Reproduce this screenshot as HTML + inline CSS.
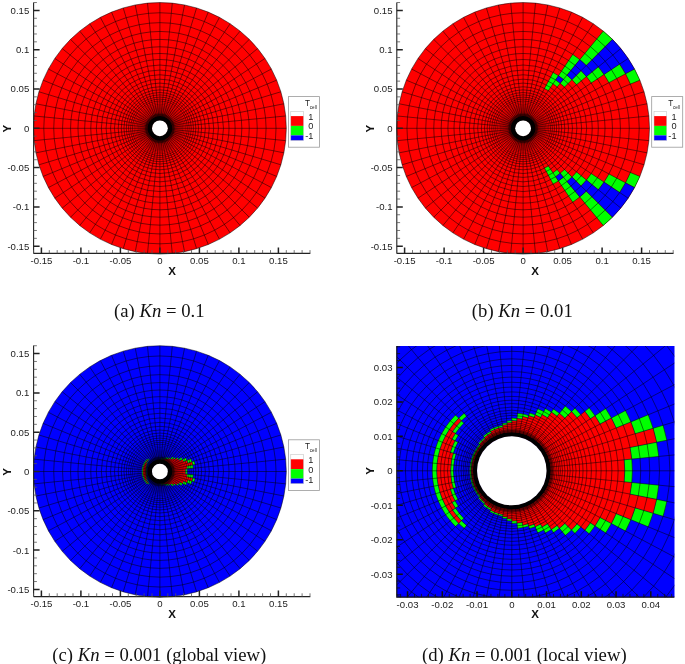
<!DOCTYPE html>
<html><head><meta charset="utf-8"><style>html,body{margin:0;padding:0;background:#fff;}svg{display:block;filter:blur(0.25px);}</style></head><body>
<svg width="685" height="664" viewBox="0 0 685 664">
<rect width="685" height="664" fill="#fff"/>
<ellipse cx="159.9" cy="128.3" rx="126.4" ry="125.76" fill="#ff0000"/>
<path fill="none" stroke="#000" stroke-width="0.5" d="M167.8 128.3L286.3 128.3M167.76 127.53L285.69 115.97M167.65 126.77L283.87 103.77M167.46 126.02L280.86 91.79M167.2 125.29L276.68 80.17M166.87 124.59L271.37 69.02M166.47 123.93L265 58.43M166.01 123.31L257.61 48.52M165.49 122.74L249.28 39.37M164.91 122.22L240.09 31.09M164.29 121.76L230.12 23.73M163.62 121.37L219.48 17.39M162.92 121.04L208.27 12.11M162.19 120.78L196.59 7.96M161.44 120.59L184.56 4.96M160.67 120.48L172.29 3.15M159.9 120.44L159.9 2.54M159.13 120.48L147.51 3.15M158.36 120.59L135.24 4.96M157.61 120.78L123.21 7.96M156.88 121.04L111.53 12.11M156.18 121.37L100.32 17.39M155.51 121.76L89.68 23.73M154.89 122.22L79.71 31.09M154.31 122.74L70.52 39.37M153.79 123.31L62.19 48.52M153.33 123.93L54.8 58.43M152.93 124.59L48.43 69.02M152.6 125.29L43.12 80.17M152.34 126.02L38.94 91.79M152.15 126.77L35.93 103.77M152.04 127.53L34.11 115.97M152 128.3L33.5 128.3M152.04 129.07L34.11 140.63M152.15 129.83L35.93 152.83M152.34 130.58L38.94 164.81M152.6 131.31L43.12 176.43M152.93 132.01L48.43 187.58M153.33 132.67L54.8 198.17M153.79 133.29L62.19 208.08M154.31 133.86L70.52 217.23M154.89 134.38L79.71 225.51M155.51 134.84L89.68 232.87M156.18 135.23L100.32 239.21M156.88 135.56L111.53 244.49M157.61 135.82L123.21 248.64M158.36 136.01L135.24 251.64M159.13 136.12L147.51 253.45M159.9 136.16L159.9 254.06M160.67 136.12L172.29 253.45M161.44 136.01L184.56 251.64M162.19 135.82L196.59 248.64M162.92 135.56L208.27 244.49M163.62 135.23L219.48 239.21M164.29 134.84L230.12 232.87M164.91 134.38L240.09 225.51M165.49 133.86L249.28 217.23M166.01 133.29L257.61 208.08M166.47 132.67L265 198.17M166.87 132.01L271.37 187.58M167.2 131.31L276.68 176.43M167.46 130.58L280.86 164.81M167.65 129.83L283.87 152.83M167.76 129.07L285.69 140.63"/>
<g fill="none" stroke="#000" stroke-width="0.5"><ellipse cx="159.9" cy="128.3" rx="27.41" ry="27.27"/><ellipse cx="159.9" cy="128.3" rx="29.31" ry="29.16"/><ellipse cx="159.9" cy="128.3" rx="31.36" ry="31.2"/><ellipse cx="159.9" cy="128.3" rx="33.58" ry="33.41"/><ellipse cx="159.9" cy="128.3" rx="35.95" ry="35.76"/><ellipse cx="159.9" cy="128.3" rx="38.63" ry="38.44"/><ellipse cx="159.9" cy="128.3" rx="41.71" ry="41.5"/><ellipse cx="159.9" cy="128.3" rx="45.43" ry="45.2"/><ellipse cx="159.9" cy="128.3" rx="49.38" ry="49.12"/><ellipse cx="159.9" cy="128.3" rx="53.8" ry="53.53"/><ellipse cx="159.9" cy="128.3" rx="58.54" ry="58.24"/><ellipse cx="159.9" cy="128.3" rx="63.59" ry="63.27"/><ellipse cx="159.9" cy="128.3" rx="69.12" ry="68.77"/><ellipse cx="159.9" cy="128.3" rx="75.21" ry="74.83"/><ellipse cx="159.9" cy="128.3" rx="81.92" ry="81.51"/><ellipse cx="159.9" cy="128.3" rx="89.35" ry="88.9"/><ellipse cx="159.9" cy="128.3" rx="97.33" ry="96.84"/><ellipse cx="159.9" cy="128.3" rx="106.18" ry="105.64"/><ellipse cx="159.9" cy="128.3" rx="116.13" ry="115.54"/><ellipse cx="159.9" cy="128.3" rx="126.4" ry="125.76"/></g>
<g fill="none" stroke="#000" stroke-width="0.32"><ellipse cx="159.9" cy="128.3" rx="7.9" ry="7.86"/><ellipse cx="159.9" cy="128.3" rx="7.96" ry="7.92"/><ellipse cx="159.9" cy="128.3" rx="8.04" ry="8"/><ellipse cx="159.9" cy="128.3" rx="8.14" ry="8.1"/><ellipse cx="159.9" cy="128.3" rx="8.26" ry="8.21"/><ellipse cx="159.9" cy="128.3" rx="8.4" ry="8.36"/><ellipse cx="159.9" cy="128.3" rx="8.57" ry="8.53"/><ellipse cx="159.9" cy="128.3" rx="8.77" ry="8.72"/><ellipse cx="159.9" cy="128.3" rx="9.01" ry="8.96"/><ellipse cx="159.9" cy="128.3" rx="9.24" ry="9.2"/><ellipse cx="159.9" cy="128.3" rx="9.56" ry="9.51"/><ellipse cx="159.9" cy="128.3" rx="9.88" ry="9.83"/><ellipse cx="159.9" cy="128.3" rx="10.27" ry="10.22"/><ellipse cx="159.9" cy="128.3" rx="10.66" ry="10.61"/><ellipse cx="159.9" cy="128.3" rx="11.06" ry="11"/><ellipse cx="159.9" cy="128.3" rx="11.53" ry="11.48"/><ellipse cx="159.9" cy="128.3" rx="12.09" ry="12.03"/><ellipse cx="159.9" cy="128.3" rx="12.72" ry="12.65"/><ellipse cx="159.9" cy="128.3" rx="13.27" ry="13.2"/><ellipse cx="159.9" cy="128.3" rx="13.9" ry="13.83"/><ellipse cx="159.9" cy="128.3" rx="14.61" ry="14.54"/><ellipse cx="159.9" cy="128.3" rx="15.4" ry="15.33"/><ellipse cx="159.9" cy="128.3" rx="16.2" ry="16.11"/><ellipse cx="159.9" cy="128.3" rx="17.06" ry="16.98"/><ellipse cx="159.9" cy="128.3" rx="18.09" ry="18"/><ellipse cx="159.9" cy="128.3" rx="19.2" ry="19.1"/><ellipse cx="159.9" cy="128.3" rx="20.3" ry="20.2"/><ellipse cx="159.9" cy="128.3" rx="21.49" ry="21.38"/><ellipse cx="159.9" cy="128.3" rx="22.75" ry="22.64"/><ellipse cx="159.9" cy="128.3" rx="24.17" ry="24.05"/><ellipse cx="159.9" cy="128.3" rx="25.68" ry="25.55"/></g>
<ellipse cx="159.9" cy="128.3" rx="10.15" ry="10.1" fill="none" stroke="#000" stroke-width="4.49"/>
<ellipse cx="159.9" cy="128.3" rx="13.59" ry="13.52" fill="none" stroke="#000" stroke-opacity="0.45" stroke-width="2.36"/>
<ellipse cx="159.9" cy="128.3" rx="7.9" ry="7.86" fill="#fff"/>
<path fill="none" stroke="#222" stroke-width="1.1" d="M33.6 2.4L33.6 253.4M33.6 253.4L310.3 253.4"/>
<path fill="none" stroke="#222" stroke-width="1.5" d="M33.6 246.2h6M33.6 206.9h6M33.6 167.6h6M33.6 128.3h6M33.6 89h6M33.6 49.7h6M33.6 10.4h6M41.4 253.4v-6M80.9 253.4v-6M120.4 253.4v-6M159.9 253.4v-6M199.4 253.4v-6M238.9 253.4v-6M278.4 253.4v-6"/>
<path fill="none" stroke="#555" stroke-width="0.8" d="M33.6 238.34h3.3M33.6 230.48h3.3M33.6 222.62h3.3M33.6 214.76h3.3M33.6 199.04h3.3M33.6 191.18h3.3M33.6 183.32h3.3M33.6 175.46h3.3M33.6 159.74h3.3M33.6 151.88h3.3M33.6 144.02h3.3M33.6 136.16h3.3M33.6 120.44h3.3M33.6 112.58h3.3M33.6 104.72h3.3M33.6 96.86h3.3M33.6 81.14h3.3M33.6 73.28h3.3M33.6 65.42h3.3M33.6 57.56h3.3M33.6 41.84h3.3M33.6 33.98h3.3M33.6 26.12h3.3M33.6 18.26h3.3M33.6 2.54h3.3M33.5 253.4v-3.3M49.3 253.4v-3.3M57.2 253.4v-3.3M65.1 253.4v-3.3M73 253.4v-3.3M88.8 253.4v-3.3M96.7 253.4v-3.3M104.6 253.4v-3.3M112.5 253.4v-3.3M128.3 253.4v-3.3M136.2 253.4v-3.3M144.1 253.4v-3.3M152 253.4v-3.3M167.8 253.4v-3.3M175.7 253.4v-3.3M183.6 253.4v-3.3M191.5 253.4v-3.3M207.3 253.4v-3.3M215.2 253.4v-3.3M223.1 253.4v-3.3M231 253.4v-3.3M246.8 253.4v-3.3M254.7 253.4v-3.3M262.6 253.4v-3.3M270.5 253.4v-3.3M286.3 253.4v-3.3M294.2 253.4v-3.3M302.1 253.4v-3.3M310 253.4v-3.3"/>
<text x="29.3" y="13.8" font-family="Liberation Sans" font-size="9.6" font-weight="normal" font-style="normal" text-anchor="end" fill="#222">0.15</text>
<text x="29.3" y="53.1" font-family="Liberation Sans" font-size="9.6" font-weight="normal" font-style="normal" text-anchor="end" fill="#222">0.1</text>
<text x="29.3" y="92.4" font-family="Liberation Sans" font-size="9.6" font-weight="normal" font-style="normal" text-anchor="end" fill="#222">0.05</text>
<text x="29.3" y="131.7" font-family="Liberation Sans" font-size="9.6" font-weight="normal" font-style="normal" text-anchor="end" fill="#222">0</text>
<text x="29.3" y="171" font-family="Liberation Sans" font-size="9.6" font-weight="normal" font-style="normal" text-anchor="end" fill="#222">-0.05</text>
<text x="29.3" y="210.3" font-family="Liberation Sans" font-size="9.6" font-weight="normal" font-style="normal" text-anchor="end" fill="#222">-0.1</text>
<text x="29.3" y="249.6" font-family="Liberation Sans" font-size="9.6" font-weight="normal" font-style="normal" text-anchor="end" fill="#222">-0.15</text>
<text x="278.4" y="264.1" font-family="Liberation Sans" font-size="9.6" font-weight="normal" font-style="normal" text-anchor="middle" fill="#222">0.15</text>
<text x="238.9" y="264.1" font-family="Liberation Sans" font-size="9.6" font-weight="normal" font-style="normal" text-anchor="middle" fill="#222">0.1</text>
<text x="199.4" y="264.1" font-family="Liberation Sans" font-size="9.6" font-weight="normal" font-style="normal" text-anchor="middle" fill="#222">0.05</text>
<text x="159.9" y="264.1" font-family="Liberation Sans" font-size="9.6" font-weight="normal" font-style="normal" text-anchor="middle" fill="#222">0</text>
<text x="120.4" y="264.1" font-family="Liberation Sans" font-size="9.6" font-weight="normal" font-style="normal" text-anchor="middle" fill="#222">-0.05</text>
<text x="80.9" y="264.1" font-family="Liberation Sans" font-size="9.6" font-weight="normal" font-style="normal" text-anchor="middle" fill="#222">-0.1</text>
<text x="41.4" y="264.1" font-family="Liberation Sans" font-size="9.6" font-weight="normal" font-style="normal" text-anchor="middle" fill="#222">-0.15</text>
<text x="172" y="275" font-family="Liberation Sans" font-size="11.5" font-weight="bold" font-style="normal" text-anchor="middle" fill="#111">X</text>
<text x="0" y="0" font-family="Liberation Sans" font-size="11.5" font-weight="bold" font-style="normal" text-anchor="middle" fill="#111" transform="translate(11 128.6) rotate(-90)">Y</text>
<rect x="288.5" y="96.6" width="31" height="50.6" fill="#fff" stroke="#999" stroke-width="0.8"/>
<rect x="290.8" y="111.4" width="12.7" height="5" fill="#fff"/>
<rect x="290.8" y="116.1" width="12.7" height="9.8" fill="#ff0000"/>
<rect x="290.8" y="125.9" width="12.7" height="9.5" fill="#00ff00"/>
<rect x="290.8" y="135.4" width="12.7" height="5" fill="#0000ff"/>
<rect x="290.8" y="111.4" width="12.7" height="29" fill="none" stroke="#bbb" stroke-width="0.5"/>
<text x="313.3" y="119.5" font-family="Liberation Sans" font-size="9.2" font-weight="normal" font-style="normal" text-anchor="end" fill="#222">1</text>
<text x="313.3" y="129.4" font-family="Liberation Sans" font-size="9.2" font-weight="normal" font-style="normal" text-anchor="end" fill="#222">0</text>
<text x="313.3" y="139.4" font-family="Liberation Sans" font-size="9.2" font-weight="normal" font-style="normal" text-anchor="end" fill="#222">-1</text>
<text x="305.1" y="105.9" font-family="Liberation Sans" font-size="8.2" font-weight="normal" font-style="normal" text-anchor="start" fill="#222">T</text>
<text x="309.8" y="108.8" font-family="Liberation Sans" font-size="4.6" font-weight="normal" font-style="normal" text-anchor="start" fill="#222">cell</text>
<ellipse cx="523.1" cy="128.3" rx="126.4" ry="125.76" fill="#ff0000"/>
<path fill="#00ff00" d="M630.39 84.08L639.88 80.17A126.4 125.76 0 0 0 634.57 69.02L625.52 73.83A116.13 115.54 0 0 1 630.39 84.08ZM608.94 82.65L625.52 73.83A116.13 115.54 0 0 0 619.66 64.11L604.03 74.5A97.33 96.84 0 0 1 608.94 82.65ZM591.22 83.02L604.03 74.5A97.33 96.84 0 0 0 598.34 66.87L586.43 76.59A81.92 81.51 0 0 1 591.22 83.02ZM576.53 84.67L586.43 76.59A81.92 81.51 0 0 0 581.03 70.66L571.98 79.67A69.12 68.77 0 0 1 576.53 84.67ZM564.49 87.12L571.98 79.67A69.12 68.77 0 0 0 566.95 75.14L560.24 83.28A58.54 58.24 0 0 1 564.49 87.12ZM586.28 65.44L612.48 39.37A126.4 125.76 0 0 0 603.29 31.09L579.78 59.58A89.35 88.9 0 0 1 586.28 65.44ZM557.23 86.92L560.24 83.28A58.54 58.24 0 0 0 555.62 79.87L552.99 83.79A53.8 53.53 0 0 1 557.23 86.92ZM563.44 79.39L579.78 59.58A89.35 88.9 0 0 0 572.74 54.39L558.43 75.69A63.59 63.27 0 0 1 563.44 79.39ZM548.34 90.72L558.43 75.69A63.59 63.27 0 0 0 553.08 72.5L544.51 88.44A45.43 45.2 0 0 1 548.34 90.72ZM544.51 168.16L553.08 184.1A63.59 63.27 0 0 0 558.43 180.91L548.34 165.88A45.43 45.2 0 0 1 544.51 168.16ZM552.99 172.81L555.62 176.73A58.54 58.24 0 0 0 560.24 173.32L557.23 169.68A53.8 53.53 0 0 1 552.99 172.81ZM558.43 180.91L572.74 202.21A89.35 88.9 0 0 0 579.78 197.02L563.44 177.21A63.59 63.27 0 0 1 558.43 180.91ZM560.24 173.32L566.95 181.46A69.12 68.77 0 0 0 571.98 176.93L564.49 169.48A58.54 58.24 0 0 1 560.24 173.32ZM579.78 197.02L603.29 225.51A126.4 125.76 0 0 0 612.48 217.23L586.28 191.16A89.35 88.9 0 0 1 579.78 197.02ZM571.98 176.93L581.03 185.94A81.92 81.51 0 0 0 586.43 180.01L576.53 171.93A69.12 68.77 0 0 1 571.98 176.93ZM586.43 180.01L598.34 189.73A97.33 96.84 0 0 0 604.03 182.1L591.22 173.58A81.92 81.51 0 0 1 586.43 180.01ZM604.03 182.1L619.66 192.49A116.13 115.54 0 0 0 625.52 182.77L608.94 173.95A97.33 96.84 0 0 1 604.03 182.1ZM625.52 182.77L634.57 187.58A126.4 125.76 0 0 0 639.88 176.43L630.39 172.52A116.13 115.54 0 0 1 625.52 182.77Z"/>
<path fill="#0000ff" d="M625.52 73.83L634.57 69.02A126.4 125.76 0 0 0 628.2 58.43L619.66 64.11A116.13 115.54 0 0 1 625.52 73.83ZM604.03 74.5L628.2 58.43A126.4 125.76 0 0 0 620.81 48.52L598.34 66.87A97.33 96.84 0 0 1 604.03 74.5ZM586.43 76.59L620.81 48.52A126.4 125.76 0 0 0 612.48 39.37L581.03 70.66A81.92 81.51 0 0 1 586.43 76.59ZM571.98 79.67L586.28 65.44A89.35 88.9 0 0 0 579.78 59.58L566.95 75.14A69.12 68.77 0 0 1 571.98 79.67ZM560.24 83.28L563.44 79.39A63.59 63.27 0 0 0 558.43 75.69L555.62 79.87A58.54 58.24 0 0 1 560.24 83.28ZM555.62 176.73L558.43 180.91A63.59 63.27 0 0 0 563.44 177.21L560.24 173.32A58.54 58.24 0 0 1 555.62 176.73ZM566.95 181.46L579.78 197.02A89.35 88.9 0 0 0 586.28 191.16L571.98 176.93A69.12 68.77 0 0 1 566.95 181.46ZM581.03 185.94L612.48 217.23A126.4 125.76 0 0 0 620.81 208.08L586.43 180.01A81.92 81.51 0 0 1 581.03 185.94ZM598.34 189.73L620.81 208.08A126.4 125.76 0 0 0 628.2 198.17L604.03 182.1A97.33 96.84 0 0 1 598.34 189.73ZM619.66 192.49L628.2 198.17A126.4 125.76 0 0 0 634.57 187.58L625.52 182.77A116.13 115.54 0 0 1 619.66 192.49Z"/>
<path fill="none" stroke="#000" stroke-width="0.5" d="M531 128.3L649.5 128.3M530.96 127.53L648.89 115.97M530.85 126.77L647.07 103.77M530.66 126.02L644.06 91.79M530.4 125.29L639.88 80.17M530.07 124.59L634.57 69.02M529.67 123.93L628.2 58.43M529.21 123.31L620.81 48.52M528.69 122.74L612.48 39.37M528.11 122.22L603.29 31.09M527.49 121.76L593.32 23.73M526.82 121.37L582.68 17.39M526.12 121.04L571.47 12.11M525.39 120.78L559.79 7.96M524.64 120.59L547.76 4.96M523.87 120.48L535.49 3.15M523.1 120.44L523.1 2.54M522.33 120.48L510.71 3.15M521.56 120.59L498.44 4.96M520.81 120.78L486.41 7.96M520.08 121.04L474.73 12.11M519.38 121.37L463.52 17.39M518.71 121.76L452.88 23.73M518.09 122.22L442.91 31.09M517.51 122.74L433.72 39.37M516.99 123.31L425.39 48.52M516.53 123.93L418 58.43M516.13 124.59L411.63 69.02M515.8 125.29L406.32 80.17M515.54 126.02L402.14 91.79M515.35 126.77L399.13 103.77M515.24 127.53L397.31 115.97M515.2 128.3L396.7 128.3M515.24 129.07L397.31 140.63M515.35 129.83L399.13 152.83M515.54 130.58L402.14 164.81M515.8 131.31L406.32 176.43M516.13 132.01L411.63 187.58M516.53 132.67L418 198.17M516.99 133.29L425.39 208.08M517.51 133.86L433.72 217.23M518.09 134.38L442.91 225.51M518.71 134.84L452.88 232.87M519.38 135.23L463.52 239.21M520.08 135.56L474.73 244.49M520.81 135.82L486.41 248.64M521.56 136.01L498.44 251.64M522.33 136.12L510.71 253.45M523.1 136.16L523.1 254.06M523.87 136.12L535.49 253.45M524.64 136.01L547.76 251.64M525.39 135.82L559.79 248.64M526.12 135.56L571.47 244.49M526.82 135.23L582.68 239.21M527.49 134.84L593.32 232.87M528.11 134.38L603.29 225.51M528.69 133.86L612.48 217.23M529.21 133.29L620.81 208.08M529.67 132.67L628.2 198.17M530.07 132.01L634.57 187.58M530.4 131.31L639.88 176.43M530.66 130.58L644.06 164.81M530.85 129.83L647.07 152.83M530.96 129.07L648.89 140.63"/>
<g fill="none" stroke="#000" stroke-width="0.5"><ellipse cx="523.1" cy="128.3" rx="27.41" ry="27.27"/><ellipse cx="523.1" cy="128.3" rx="29.31" ry="29.16"/><ellipse cx="523.1" cy="128.3" rx="31.36" ry="31.2"/><ellipse cx="523.1" cy="128.3" rx="33.58" ry="33.41"/><ellipse cx="523.1" cy="128.3" rx="35.95" ry="35.76"/><ellipse cx="523.1" cy="128.3" rx="38.63" ry="38.44"/><ellipse cx="523.1" cy="128.3" rx="41.71" ry="41.5"/><ellipse cx="523.1" cy="128.3" rx="45.43" ry="45.2"/><ellipse cx="523.1" cy="128.3" rx="49.38" ry="49.12"/><ellipse cx="523.1" cy="128.3" rx="53.8" ry="53.53"/><ellipse cx="523.1" cy="128.3" rx="58.54" ry="58.24"/><ellipse cx="523.1" cy="128.3" rx="63.59" ry="63.27"/><ellipse cx="523.1" cy="128.3" rx="69.12" ry="68.77"/><ellipse cx="523.1" cy="128.3" rx="75.21" ry="74.83"/><ellipse cx="523.1" cy="128.3" rx="81.92" ry="81.51"/><ellipse cx="523.1" cy="128.3" rx="89.35" ry="88.9"/><ellipse cx="523.1" cy="128.3" rx="97.33" ry="96.84"/><ellipse cx="523.1" cy="128.3" rx="106.18" ry="105.64"/><ellipse cx="523.1" cy="128.3" rx="116.13" ry="115.54"/><ellipse cx="523.1" cy="128.3" rx="126.4" ry="125.76"/></g>
<g fill="none" stroke="#000" stroke-width="0.32"><ellipse cx="523.1" cy="128.3" rx="7.9" ry="7.86"/><ellipse cx="523.1" cy="128.3" rx="7.96" ry="7.92"/><ellipse cx="523.1" cy="128.3" rx="8.04" ry="8"/><ellipse cx="523.1" cy="128.3" rx="8.14" ry="8.1"/><ellipse cx="523.1" cy="128.3" rx="8.26" ry="8.21"/><ellipse cx="523.1" cy="128.3" rx="8.4" ry="8.36"/><ellipse cx="523.1" cy="128.3" rx="8.57" ry="8.53"/><ellipse cx="523.1" cy="128.3" rx="8.77" ry="8.72"/><ellipse cx="523.1" cy="128.3" rx="9.01" ry="8.96"/><ellipse cx="523.1" cy="128.3" rx="9.24" ry="9.2"/><ellipse cx="523.1" cy="128.3" rx="9.56" ry="9.51"/><ellipse cx="523.1" cy="128.3" rx="9.88" ry="9.83"/><ellipse cx="523.1" cy="128.3" rx="10.27" ry="10.22"/><ellipse cx="523.1" cy="128.3" rx="10.66" ry="10.61"/><ellipse cx="523.1" cy="128.3" rx="11.06" ry="11"/><ellipse cx="523.1" cy="128.3" rx="11.53" ry="11.48"/><ellipse cx="523.1" cy="128.3" rx="12.09" ry="12.03"/><ellipse cx="523.1" cy="128.3" rx="12.72" ry="12.65"/><ellipse cx="523.1" cy="128.3" rx="13.27" ry="13.2"/><ellipse cx="523.1" cy="128.3" rx="13.9" ry="13.83"/><ellipse cx="523.1" cy="128.3" rx="14.61" ry="14.54"/><ellipse cx="523.1" cy="128.3" rx="15.4" ry="15.33"/><ellipse cx="523.1" cy="128.3" rx="16.2" ry="16.11"/><ellipse cx="523.1" cy="128.3" rx="17.06" ry="16.98"/><ellipse cx="523.1" cy="128.3" rx="18.09" ry="18"/><ellipse cx="523.1" cy="128.3" rx="19.2" ry="19.1"/><ellipse cx="523.1" cy="128.3" rx="20.3" ry="20.2"/><ellipse cx="523.1" cy="128.3" rx="21.49" ry="21.38"/><ellipse cx="523.1" cy="128.3" rx="22.75" ry="22.64"/><ellipse cx="523.1" cy="128.3" rx="24.17" ry="24.05"/><ellipse cx="523.1" cy="128.3" rx="25.68" ry="25.55"/></g>
<ellipse cx="523.1" cy="128.3" rx="10.15" ry="10.1" fill="none" stroke="#000" stroke-width="4.49"/>
<ellipse cx="523.1" cy="128.3" rx="13.59" ry="13.52" fill="none" stroke="#000" stroke-opacity="0.45" stroke-width="2.36"/>
<ellipse cx="523.1" cy="128.3" rx="7.9" ry="7.86" fill="#fff"/>
<path fill="none" stroke="#222" stroke-width="1.1" d="M396.8 2.4L396.8 253.4M396.8 253.4L673.5 253.4"/>
<path fill="none" stroke="#222" stroke-width="1.5" d="M396.8 246.2h6M396.8 206.9h6M396.8 167.6h6M396.8 128.3h6M396.8 89h6M396.8 49.7h6M396.8 10.4h6M404.6 253.4v-6M444.1 253.4v-6M483.6 253.4v-6M523.1 253.4v-6M562.6 253.4v-6M602.1 253.4v-6M641.6 253.4v-6"/>
<path fill="none" stroke="#555" stroke-width="0.8" d="M396.8 238.34h3.3M396.8 230.48h3.3M396.8 222.62h3.3M396.8 214.76h3.3M396.8 199.04h3.3M396.8 191.18h3.3M396.8 183.32h3.3M396.8 175.46h3.3M396.8 159.74h3.3M396.8 151.88h3.3M396.8 144.02h3.3M396.8 136.16h3.3M396.8 120.44h3.3M396.8 112.58h3.3M396.8 104.72h3.3M396.8 96.86h3.3M396.8 81.14h3.3M396.8 73.28h3.3M396.8 65.42h3.3M396.8 57.56h3.3M396.8 41.84h3.3M396.8 33.98h3.3M396.8 26.12h3.3M396.8 18.26h3.3M396.8 2.54h3.3M396.7 253.4v-3.3M412.5 253.4v-3.3M420.4 253.4v-3.3M428.3 253.4v-3.3M436.2 253.4v-3.3M452 253.4v-3.3M459.9 253.4v-3.3M467.8 253.4v-3.3M475.7 253.4v-3.3M491.5 253.4v-3.3M499.4 253.4v-3.3M507.3 253.4v-3.3M515.2 253.4v-3.3M531 253.4v-3.3M538.9 253.4v-3.3M546.8 253.4v-3.3M554.7 253.4v-3.3M570.5 253.4v-3.3M578.4 253.4v-3.3M586.3 253.4v-3.3M594.2 253.4v-3.3M610 253.4v-3.3M617.9 253.4v-3.3M625.8 253.4v-3.3M633.7 253.4v-3.3M649.5 253.4v-3.3M657.4 253.4v-3.3M665.3 253.4v-3.3M673.2 253.4v-3.3"/>
<text x="392.5" y="13.8" font-family="Liberation Sans" font-size="9.6" font-weight="normal" font-style="normal" text-anchor="end" fill="#222">0.15</text>
<text x="392.5" y="53.1" font-family="Liberation Sans" font-size="9.6" font-weight="normal" font-style="normal" text-anchor="end" fill="#222">0.1</text>
<text x="392.5" y="92.4" font-family="Liberation Sans" font-size="9.6" font-weight="normal" font-style="normal" text-anchor="end" fill="#222">0.05</text>
<text x="392.5" y="131.7" font-family="Liberation Sans" font-size="9.6" font-weight="normal" font-style="normal" text-anchor="end" fill="#222">0</text>
<text x="392.5" y="171" font-family="Liberation Sans" font-size="9.6" font-weight="normal" font-style="normal" text-anchor="end" fill="#222">-0.05</text>
<text x="392.5" y="210.3" font-family="Liberation Sans" font-size="9.6" font-weight="normal" font-style="normal" text-anchor="end" fill="#222">-0.1</text>
<text x="392.5" y="249.6" font-family="Liberation Sans" font-size="9.6" font-weight="normal" font-style="normal" text-anchor="end" fill="#222">-0.15</text>
<text x="641.6" y="264.1" font-family="Liberation Sans" font-size="9.6" font-weight="normal" font-style="normal" text-anchor="middle" fill="#222">0.15</text>
<text x="602.1" y="264.1" font-family="Liberation Sans" font-size="9.6" font-weight="normal" font-style="normal" text-anchor="middle" fill="#222">0.1</text>
<text x="562.6" y="264.1" font-family="Liberation Sans" font-size="9.6" font-weight="normal" font-style="normal" text-anchor="middle" fill="#222">0.05</text>
<text x="523.1" y="264.1" font-family="Liberation Sans" font-size="9.6" font-weight="normal" font-style="normal" text-anchor="middle" fill="#222">0</text>
<text x="483.6" y="264.1" font-family="Liberation Sans" font-size="9.6" font-weight="normal" font-style="normal" text-anchor="middle" fill="#222">-0.05</text>
<text x="444.1" y="264.1" font-family="Liberation Sans" font-size="9.6" font-weight="normal" font-style="normal" text-anchor="middle" fill="#222">-0.1</text>
<text x="404.6" y="264.1" font-family="Liberation Sans" font-size="9.6" font-weight="normal" font-style="normal" text-anchor="middle" fill="#222">-0.15</text>
<text x="535.2" y="275" font-family="Liberation Sans" font-size="11.5" font-weight="bold" font-style="normal" text-anchor="middle" fill="#111">X</text>
<text x="0" y="0" font-family="Liberation Sans" font-size="11.5" font-weight="bold" font-style="normal" text-anchor="middle" fill="#111" transform="translate(374.2 128.6) rotate(-90)">Y</text>
<rect x="651.7" y="96.6" width="31" height="50.6" fill="#fff" stroke="#999" stroke-width="0.8"/>
<rect x="654" y="111.4" width="12.7" height="5" fill="#fff"/>
<rect x="654" y="116.1" width="12.7" height="9.8" fill="#ff0000"/>
<rect x="654" y="125.9" width="12.7" height="9.5" fill="#00ff00"/>
<rect x="654" y="135.4" width="12.7" height="5" fill="#0000ff"/>
<rect x="654" y="111.4" width="12.7" height="29" fill="none" stroke="#bbb" stroke-width="0.5"/>
<text x="676.5" y="119.5" font-family="Liberation Sans" font-size="9.2" font-weight="normal" font-style="normal" text-anchor="end" fill="#222">1</text>
<text x="676.5" y="129.4" font-family="Liberation Sans" font-size="9.2" font-weight="normal" font-style="normal" text-anchor="end" fill="#222">0</text>
<text x="676.5" y="139.4" font-family="Liberation Sans" font-size="9.2" font-weight="normal" font-style="normal" text-anchor="end" fill="#222">-1</text>
<text x="668.3" y="105.9" font-family="Liberation Sans" font-size="8.2" font-weight="normal" font-style="normal" text-anchor="start" fill="#222">T</text>
<text x="673" y="108.8" font-family="Liberation Sans" font-size="4.6" font-weight="normal" font-style="normal" text-anchor="start" fill="#222">cell</text>
<ellipse cx="159.9" cy="471.5" rx="126.4" ry="125.76" fill="#0000ff"/>
<path fill="#ff0000" d="M167.8 471.5L185.58 471.5A25.68 25.55 0 0 0 185.45 469L167.76 470.73A7.9 7.86 0 0 1 167.8 471.5ZM167.76 470.73L187.18 468.83A27.41 27.27 0 0 0 186.79 466.18L167.65 469.97A7.9 7.86 0 0 1 167.76 470.73ZM167.65 469.97L192.83 464.98A33.58 33.41 0 0 0 192.03 461.8L167.46 469.22A7.9 7.86 0 0 1 167.65 469.97ZM167.46 469.22L187.95 463.04A29.31 29.16 0 0 0 186.98 460.34L167.2 468.49A7.9 7.86 0 0 1 167.46 469.22ZM167.2 468.49L183.62 461.72A25.68 25.55 0 0 0 182.54 459.46L166.87 467.79A7.9 7.86 0 0 1 167.2 468.49ZM166.87 467.79L179.97 460.83A22.75 22.64 0 0 0 178.82 458.92L166.47 467.13A7.9 7.86 0 0 1 166.87 467.79ZM166.47 467.13L177.77 459.62A21.49 21.38 0 0 0 176.51 457.94L166.01 466.51A7.9 7.86 0 0 1 166.47 467.13ZM166.01 466.51L174.74 459.38A19.2 19.1 0 0 0 173.47 457.99L165.49 465.94A7.9 7.86 0 0 1 166.01 466.51ZM165.49 465.94L171.97 459.5A17.06 16.98 0 0 0 170.73 458.38L164.91 465.42A7.9 7.86 0 0 1 165.49 465.94ZM164.91 465.42L170.17 459.04A16.2 16.11 0 0 0 168.9 458.1L164.29 464.96A7.9 7.86 0 0 1 164.91 465.42ZM164.29 464.96L168.02 459.41A14.61 14.54 0 0 0 166.79 458.68L163.62 464.57A7.9 7.86 0 0 1 164.29 464.96ZM163.62 464.57L166.45 459.3A13.9 13.83 0 0 0 165.22 458.72L162.92 464.24A7.9 7.86 0 0 1 163.62 464.57ZM162.92 464.24L164.98 459.3A13.27 13.2 0 0 0 163.75 458.86L162.19 463.98A7.9 7.86 0 0 1 162.92 464.24ZM162.19 463.98L163.59 459.39A12.72 12.65 0 0 0 162.38 459.09L161.44 463.79A7.9 7.86 0 0 1 162.19 463.98ZM161.44 463.79L162.26 459.71A12.09 12.03 0 0 0 161.08 459.53L160.67 463.68A7.9 7.86 0 0 1 161.44 463.79ZM160.67 463.68L161.03 460.08A11.53 11.48 0 0 0 159.9 460.02L159.9 463.64A7.9 7.86 0 0 1 160.67 463.68ZM159.9 463.64L159.9 460.5A11.06 11 0 0 0 158.82 460.55L159.13 463.68A7.9 7.86 0 0 1 159.9 463.64ZM159.13 463.68L158.85 460.94A10.66 10.61 0 0 0 157.82 461.09L158.36 463.79A7.9 7.86 0 0 1 159.13 463.68ZM158.36 463.79L157.9 461.48A10.27 10.22 0 0 0 156.92 461.72L157.61 463.98A7.9 7.86 0 0 1 158.36 463.79ZM157.61 463.98L156.92 461.72A10.27 10.22 0 0 0 155.97 462.06L156.88 464.24A7.9 7.86 0 0 1 157.61 463.98ZM156.88 464.24L155.97 462.06A10.27 10.22 0 0 0 155.06 462.49L156.18 464.57A7.9 7.86 0 0 1 156.88 464.24ZM156.18 464.57L155.24 462.84A9.88 9.83 0 0 0 154.41 463.33L155.51 464.96A7.9 7.86 0 0 1 156.18 464.57ZM155.51 464.96L154.41 463.33A9.88 9.83 0 0 0 153.64 463.91L154.89 465.42A7.9 7.86 0 0 1 155.51 464.96ZM154.89 465.42L153.84 464.15A9.56 9.51 0 0 0 153.14 464.77L154.31 465.94A7.9 7.86 0 0 1 154.89 465.42ZM154.31 465.94L153.14 464.77A9.56 9.51 0 0 0 152.51 465.47L153.79 466.51A7.9 7.86 0 0 1 154.31 465.94ZM148.45 460.11L147.83 459.5A17.06 16.98 0 0 0 146.71 460.73L147.38 461.28A16.2 16.11 0 0 1 148.45 460.11ZM153.79 466.51L152.76 465.67A9.24 9.2 0 0 0 152.21 466.39L153.33 467.13A7.9 7.86 0 0 1 153.79 466.51ZM147.38 461.28L146.71 460.73A17.06 16.98 0 0 0 145.71 462.07L146.43 462.55A16.2 16.11 0 0 1 147.38 461.28ZM153.33 467.13L152.21 466.39A9.24 9.2 0 0 0 151.75 467.16L152.93 467.79A7.9 7.86 0 0 1 153.33 467.13ZM147.09 462.98L145.71 462.07A17.06 16.98 0 0 0 144.85 463.5L146.31 464.27A15.4 15.33 0 0 1 147.09 462.98ZM152.93 467.79L151.75 467.16A9.24 9.2 0 0 0 151.36 467.98L152.6 468.49A7.9 7.86 0 0 1 152.93 467.79ZM147.01 464.65L144.85 463.5A17.06 16.98 0 0 0 144.13 465L146.4 465.94A14.61 14.54 0 0 1 147.01 464.65ZM152.6 468.49L151.36 467.98A9.24 9.2 0 0 0 151.06 468.83L152.34 469.22A7.9 7.86 0 0 1 152.6 468.49ZM146.4 465.94L144.13 465A17.06 16.98 0 0 0 143.57 466.57L145.91 467.28A14.61 14.54 0 0 1 146.4 465.94ZM152.34 469.22L151.06 468.83A9.24 9.2 0 0 0 150.83 469.71L152.15 469.97A7.9 7.86 0 0 1 152.34 469.22ZM146.59 467.48L143.57 466.57A17.06 16.98 0 0 0 143.16 468.19L146.26 468.8A13.9 13.83 0 0 1 146.59 467.48ZM152.15 469.97L150.83 469.71A9.24 9.2 0 0 0 150.7 470.6L152.04 470.73A7.9 7.86 0 0 1 152.15 469.97ZM146.26 468.8L143.16 468.19A17.06 16.98 0 0 0 142.92 469.84L146.06 470.14A13.9 13.83 0 0 1 146.26 468.8ZM152.04 470.73L150.7 470.6A9.24 9.2 0 0 0 150.66 471.5L152 471.5A7.9 7.86 0 0 1 152.04 470.73ZM146.06 470.14L142.92 469.84A17.06 16.98 0 0 0 142.84 471.5L146 471.5A13.9 13.83 0 0 1 146.06 470.14ZM152 471.5L150.66 471.5A9.24 9.2 0 0 0 150.7 472.4L152.04 472.27A7.9 7.86 0 0 1 152 471.5ZM146 471.5L142.84 471.5A17.06 16.98 0 0 0 142.92 473.16L146.06 472.86A13.9 13.83 0 0 1 146 471.5ZM152.04 472.27L150.7 472.4A9.24 9.2 0 0 0 150.83 473.29L152.15 473.03A7.9 7.86 0 0 1 152.04 472.27ZM146.06 472.86L142.92 473.16A17.06 16.98 0 0 0 143.16 474.81L146.26 474.2A13.9 13.83 0 0 1 146.06 472.86ZM152.15 473.03L150.83 473.29A9.24 9.2 0 0 0 151.06 474.17L152.34 473.78A7.9 7.86 0 0 1 152.15 473.03ZM146.26 474.2L143.16 474.81A17.06 16.98 0 0 0 143.57 476.43L146.59 475.52A13.9 13.83 0 0 1 146.26 474.2ZM152.34 473.78L151.06 474.17A9.24 9.2 0 0 0 151.36 475.02L152.6 474.51A7.9 7.86 0 0 1 152.34 473.78ZM145.91 475.72L143.57 476.43A17.06 16.98 0 0 0 144.13 478L146.4 477.06A14.61 14.54 0 0 1 145.91 475.72ZM152.6 474.51L151.36 475.02A9.24 9.2 0 0 0 151.75 475.84L152.93 475.21A7.9 7.86 0 0 1 152.6 474.51ZM146.4 477.06L144.13 478A17.06 16.98 0 0 0 144.85 479.5L147.01 478.35A14.61 14.54 0 0 1 146.4 477.06ZM152.93 475.21L151.75 475.84A9.24 9.2 0 0 0 152.21 476.61L153.33 475.87A7.9 7.86 0 0 1 152.93 475.21ZM146.31 478.73L144.85 479.5A17.06 16.98 0 0 0 145.71 480.93L147.09 480.02A15.4 15.33 0 0 1 146.31 478.73ZM153.33 475.87L152.21 476.61A9.24 9.2 0 0 0 152.76 477.33L153.79 476.49A7.9 7.86 0 0 1 153.33 475.87ZM146.43 480.45L145.71 480.93A17.06 16.98 0 0 0 146.71 482.27L147.38 481.72A16.2 16.11 0 0 1 146.43 480.45ZM153.79 476.49L152.51 477.53A9.56 9.51 0 0 0 153.14 478.23L154.31 477.06A7.9 7.86 0 0 1 153.79 476.49ZM147.38 481.72L146.71 482.27A17.06 16.98 0 0 0 147.83 483.5L148.45 482.89A16.2 16.11 0 0 1 147.38 481.72ZM154.31 477.06L153.14 478.23A9.56 9.51 0 0 0 153.84 478.85L154.89 477.58A7.9 7.86 0 0 1 154.31 477.06ZM154.89 477.58L153.64 479.09A9.88 9.83 0 0 0 154.41 479.67L155.51 478.04A7.9 7.86 0 0 1 154.89 477.58ZM155.51 478.04L154.41 479.67A9.88 9.83 0 0 0 155.24 480.16L156.18 478.43A7.9 7.86 0 0 1 155.51 478.04ZM156.18 478.43L155.06 480.51A10.27 10.22 0 0 0 155.97 480.94L156.88 478.76A7.9 7.86 0 0 1 156.18 478.43ZM156.88 478.76L155.97 480.94A10.27 10.22 0 0 0 156.92 481.28L157.61 479.02A7.9 7.86 0 0 1 156.88 478.76ZM157.61 479.02L156.92 481.28A10.27 10.22 0 0 0 157.9 481.52L158.36 479.21A7.9 7.86 0 0 1 157.61 479.02ZM158.36 479.21L157.82 481.91A10.66 10.61 0 0 0 158.85 482.06L159.13 479.32A7.9 7.86 0 0 1 158.36 479.21ZM159.13 479.32L158.82 482.45A11.06 11 0 0 0 159.9 482.5L159.9 479.36A7.9 7.86 0 0 1 159.13 479.32ZM159.9 479.36L159.9 482.98A11.53 11.48 0 0 0 161.03 482.92L160.67 479.32A7.9 7.86 0 0 1 159.9 479.36ZM160.67 479.32L161.08 483.47A12.09 12.03 0 0 0 162.26 483.29L161.44 479.21A7.9 7.86 0 0 1 160.67 479.32ZM161.44 479.21L162.38 483.91A12.72 12.65 0 0 0 163.59 483.61L162.19 479.02A7.9 7.86 0 0 1 161.44 479.21ZM162.19 479.02L163.75 484.14A13.27 13.2 0 0 0 164.98 483.7L162.92 478.76A7.9 7.86 0 0 1 162.19 479.02ZM162.92 478.76L165.22 484.28A13.9 13.83 0 0 0 166.45 483.7L163.62 478.43A7.9 7.86 0 0 1 162.92 478.76ZM163.62 478.43L166.79 484.32A14.61 14.54 0 0 0 168.02 483.59L164.29 478.04A7.9 7.86 0 0 1 163.62 478.43ZM164.29 478.04L168.9 484.9A16.2 16.11 0 0 0 170.17 483.96L164.91 477.58A7.9 7.86 0 0 1 164.29 478.04ZM164.91 477.58L170.73 484.62A17.06 16.98 0 0 0 171.97 483.5L165.49 477.06A7.9 7.86 0 0 1 164.91 477.58ZM165.49 477.06L173.47 485.01A19.2 19.1 0 0 0 174.74 483.62L166.01 476.49A7.9 7.86 0 0 1 165.49 477.06ZM166.01 476.49L176.51 485.06A21.49 21.38 0 0 0 177.77 483.38L166.47 475.87A7.9 7.86 0 0 1 166.01 476.49ZM166.47 475.87L178.82 484.08A22.75 22.64 0 0 0 179.97 482.17L166.87 475.21A7.9 7.86 0 0 1 166.47 475.87ZM166.87 475.21L182.54 483.54A25.68 25.55 0 0 0 183.62 481.28L167.2 474.51A7.9 7.86 0 0 1 166.87 475.21ZM167.2 474.51L186.98 482.66A29.31 29.16 0 0 0 187.95 479.96L167.46 473.78A7.9 7.86 0 0 1 167.2 474.51ZM167.46 473.78L192.03 481.2A33.58 33.41 0 0 0 192.83 478.02L167.65 473.03A7.9 7.86 0 0 1 167.46 473.78ZM167.65 473.03L186.79 476.82A27.41 27.27 0 0 0 187.18 474.17L167.76 472.27A7.9 7.86 0 0 1 167.65 473.03ZM167.76 472.27L185.45 474A25.68 25.55 0 0 0 185.58 471.5L167.8 471.5A7.9 7.86 0 0 1 167.76 472.27Z"/>
<path fill="#00ff00" d="M185.58 471.5L187.31 471.5A27.41 27.27 0 0 0 187.18 468.83L185.45 469A25.68 25.55 0 0 1 185.58 471.5ZM187.18 468.83L193.31 468.23A33.58 33.41 0 0 0 192.83 464.98L186.79 466.18A27.41 27.27 0 0 1 187.18 468.83ZM192.83 464.98L195.15 464.52A35.95 35.76 0 0 0 194.3 461.12L192.03 461.8A33.58 33.41 0 0 1 192.83 464.98ZM187.95 463.04L192.03 461.8A33.58 33.41 0 0 0 190.92 458.72L186.98 460.34A29.31 29.16 0 0 1 187.95 463.04ZM183.62 461.72L186.98 460.34A29.31 29.16 0 0 0 185.75 457.75L182.54 459.46A25.68 25.55 0 0 1 183.62 461.72ZM179.97 460.83L182.54 459.46A25.68 25.55 0 0 0 181.25 457.31L178.82 458.92A22.75 22.64 0 0 1 179.97 460.83ZM177.77 459.62L178.82 458.92A22.75 22.64 0 0 0 177.49 457.14L176.51 457.94A21.49 21.38 0 0 1 177.77 459.62ZM174.74 459.38L175.59 458.69A20.3 20.2 0 0 0 174.26 457.22L173.47 457.99A19.2 19.1 0 0 1 174.74 459.38ZM171.97 459.5L173.47 457.99A19.2 19.1 0 0 0 172.08 456.74L170.73 458.38A17.06 16.98 0 0 1 171.97 459.5ZM170.17 459.04L170.73 458.38A17.06 16.98 0 0 0 169.38 457.38L168.9 458.1A16.2 16.11 0 0 1 170.17 459.04ZM168.02 459.41L168.9 458.1A16.2 16.11 0 0 0 167.53 457.29L166.79 458.68A14.61 14.54 0 0 1 168.02 459.41ZM166.45 459.3L167.16 457.98A15.4 15.33 0 0 0 165.8 457.34L165.22 458.72A13.9 13.83 0 0 1 166.45 459.3ZM164.98 459.3L165.22 458.72A13.9 13.83 0 0 0 163.94 458.26L163.75 458.86A13.27 13.2 0 0 1 164.98 459.3ZM163.59 459.39L163.75 458.86A13.27 13.2 0 0 0 162.49 458.55L162.38 459.09A12.72 12.65 0 0 1 163.59 459.39ZM162.26 459.71L162.49 458.55A13.27 13.2 0 0 0 161.2 458.36L161.08 459.53A12.09 12.03 0 0 1 162.26 459.71ZM161.03 460.08L161.08 459.53A12.09 12.03 0 0 0 159.9 459.47L159.9 460.02A11.53 11.48 0 0 1 161.03 460.08ZM159.9 460.5L159.9 460.02A11.53 11.48 0 0 0 158.77 460.08L158.82 460.55A11.06 11 0 0 1 159.9 460.5ZM158.85 460.94L158.82 460.55A11.06 11 0 0 0 157.74 460.71L157.82 461.09A10.66 10.61 0 0 1 158.85 460.94ZM157.9 461.48L157.82 461.09A10.66 10.61 0 0 0 156.8 461.35L156.92 461.72A10.27 10.22 0 0 1 157.9 461.48ZM156.92 461.72L156.8 461.35A10.66 10.61 0 0 0 155.82 461.7L155.97 462.06A10.27 10.22 0 0 1 156.92 461.72ZM155.97 462.06L155.82 461.7A10.66 10.61 0 0 0 154.87 462.14L155.06 462.49A10.27 10.22 0 0 1 155.97 462.06ZM155.24 462.84L155.06 462.49A10.27 10.22 0 0 0 154.19 463L154.41 463.33A9.88 9.83 0 0 1 155.24 462.84ZM154.41 463.33L154.19 463A10.27 10.22 0 0 0 153.38 463.6L153.64 463.91A9.88 9.83 0 0 1 154.41 463.33ZM153.84 464.15L153.64 463.91A9.88 9.83 0 0 0 152.92 464.55L153.14 464.77A9.56 9.51 0 0 1 153.84 464.15ZM149.63 459.04L149.07 458.38A17.06 16.98 0 0 0 147.83 459.5L148.45 460.11A16.2 16.11 0 0 1 149.63 459.04ZM153.14 464.77L152.92 464.55A9.88 9.83 0 0 0 152.27 465.27L152.51 465.47A9.56 9.51 0 0 1 153.14 464.77ZM149.01 460.66L148.45 460.11A16.2 16.11 0 0 0 147.38 461.28L147.99 461.78A15.4 15.33 0 0 1 149.01 460.66ZM147.83 459.5L147.11 458.77A18.09 18 0 0 0 145.92 460.08L146.71 460.73A17.06 16.98 0 0 1 147.83 459.5ZM152.76 465.67L152.51 465.47A9.56 9.51 0 0 0 151.95 466.22L152.21 466.39A9.24 9.2 0 0 1 152.76 465.67ZM147.99 461.78L147.38 461.28A16.2 16.11 0 0 0 146.43 462.55L147.09 462.98A15.4 15.33 0 0 1 147.99 461.78ZM146.71 460.73L145.92 460.08A18.09 18 0 0 0 144.86 461.5L145.71 462.07A17.06 16.98 0 0 1 146.71 460.73ZM152.21 466.39L151.95 466.22A9.56 9.51 0 0 0 151.47 467.02L151.75 467.16A9.24 9.2 0 0 1 152.21 466.39ZM147.75 463.42L147.09 462.98A15.4 15.33 0 0 0 146.31 464.27L147.01 464.65A14.61 14.54 0 0 1 147.75 463.42ZM145.71 462.07L144.86 461.5A18.09 18 0 0 0 143.95 463.02L144.85 463.5A17.06 16.98 0 0 1 145.71 462.07ZM151.75 467.16L151.47 467.02A9.56 9.51 0 0 0 151.07 467.86L151.36 467.98A9.24 9.2 0 0 1 151.75 467.16ZM147.64 464.98L147.01 464.65A14.61 14.54 0 0 0 146.4 465.94L147.05 466.21A13.9 13.83 0 0 1 147.64 464.98ZM144.85 463.5L143.95 463.02A18.09 18 0 0 0 143.19 464.61L144.13 465A17.06 16.98 0 0 1 144.85 463.5ZM151.36 467.98L151.07 467.86A9.56 9.51 0 0 0 150.75 468.74L151.06 468.83A9.24 9.2 0 0 1 151.36 467.98ZM147.05 466.21L146.4 465.94A14.61 14.54 0 0 0 145.91 467.28L146.59 467.48A13.9 13.83 0 0 1 147.05 466.21ZM144.13 465L143.19 464.61A18.09 18 0 0 0 142.59 466.28L143.57 466.57A17.06 16.98 0 0 1 144.13 465ZM151.06 468.83L150.75 468.74A9.56 9.51 0 0 0 150.52 469.64L150.83 469.71A9.24 9.2 0 0 1 151.06 468.83ZM147.2 467.67L146.59 467.48A13.9 13.83 0 0 0 146.26 468.8L146.88 468.92A13.27 13.2 0 0 1 147.2 467.67ZM143.57 466.57L142.59 466.28A18.09 18 0 0 0 142.16 467.99L143.16 468.19A17.06 16.98 0 0 1 143.57 466.57ZM150.83 469.71L150.52 469.64A9.56 9.51 0 0 0 150.39 470.57L150.7 470.6A9.24 9.2 0 0 1 150.83 469.71ZM146.88 468.92L146.26 468.8A13.9 13.83 0 0 0 146.06 470.14L146.69 470.21A13.27 13.2 0 0 1 146.88 468.92ZM143.16 468.19L142.16 467.99A18.09 18 0 0 0 141.9 469.74L142.92 469.84A17.06 16.98 0 0 1 143.16 468.19ZM150.7 470.6L150.39 470.57A9.56 9.51 0 0 0 150.34 471.5L150.66 471.5A9.24 9.2 0 0 1 150.7 470.6ZM146.69 470.21L146.06 470.14A13.9 13.83 0 0 0 146 471.5L146.63 471.5A13.27 13.2 0 0 1 146.69 470.21ZM142.92 469.84L141.9 469.74A18.09 18 0 0 0 141.81 471.5L142.84 471.5A17.06 16.98 0 0 1 142.92 469.84ZM150.66 471.5L150.34 471.5A9.56 9.51 0 0 0 150.39 472.43L150.7 472.4A9.24 9.2 0 0 1 150.66 471.5ZM146.63 471.5L146 471.5A13.9 13.83 0 0 0 146.06 472.86L146.69 472.79A13.27 13.2 0 0 1 146.63 471.5ZM142.84 471.5L141.81 471.5A18.09 18 0 0 0 141.9 473.26L142.92 473.16A17.06 16.98 0 0 1 142.84 471.5ZM150.7 472.4L150.39 472.43A9.56 9.51 0 0 0 150.52 473.36L150.83 473.29A9.24 9.2 0 0 1 150.7 472.4ZM146.69 472.79L146.06 472.86A13.9 13.83 0 0 0 146.26 474.2L146.88 474.08A13.27 13.2 0 0 1 146.69 472.79ZM142.92 473.16L141.9 473.26A18.09 18 0 0 0 142.16 475.01L143.16 474.81A17.06 16.98 0 0 1 142.92 473.16ZM150.83 473.29L150.52 473.36A9.56 9.51 0 0 0 150.75 474.26L151.06 474.17A9.24 9.2 0 0 1 150.83 473.29ZM146.88 474.08L146.26 474.2A13.9 13.83 0 0 0 146.59 475.52L147.2 475.33A13.27 13.2 0 0 1 146.88 474.08ZM143.16 474.81L142.16 475.01A18.09 18 0 0 0 142.59 476.72L143.57 476.43A17.06 16.98 0 0 1 143.16 474.81ZM151.06 474.17L150.75 474.26A9.56 9.51 0 0 0 151.07 475.14L151.36 475.02A9.24 9.2 0 0 1 151.06 474.17ZM146.59 475.52L145.91 475.72A14.61 14.54 0 0 0 146.4 477.06L147.05 476.79A13.9 13.83 0 0 1 146.59 475.52ZM143.57 476.43L142.59 476.72A18.09 18 0 0 0 143.19 478.39L144.13 478A17.06 16.98 0 0 1 143.57 476.43ZM151.36 475.02L151.07 475.14A9.56 9.51 0 0 0 151.47 475.98L151.75 475.84A9.24 9.2 0 0 1 151.36 475.02ZM147.05 476.79L146.4 477.06A14.61 14.54 0 0 0 147.01 478.35L147.64 478.02A13.9 13.83 0 0 1 147.05 476.79ZM144.13 478L143.19 478.39A18.09 18 0 0 0 143.95 479.98L144.85 479.5A17.06 16.98 0 0 1 144.13 478ZM151.75 475.84L151.47 475.98A9.56 9.51 0 0 0 151.95 476.78L152.21 476.61A9.24 9.2 0 0 1 151.75 475.84ZM147.01 478.35L146.31 478.73A15.4 15.33 0 0 0 147.09 480.02L147.75 479.58A14.61 14.54 0 0 1 147.01 478.35ZM144.85 479.5L143.95 479.98A18.09 18 0 0 0 144.86 481.5L145.71 480.93A17.06 16.98 0 0 1 144.85 479.5ZM152.21 476.61L151.95 476.78A9.56 9.51 0 0 0 152.51 477.53L152.76 477.33A9.24 9.2 0 0 1 152.21 476.61ZM147.09 480.02L146.43 480.45A16.2 16.11 0 0 0 147.38 481.72L147.99 481.22A15.4 15.33 0 0 1 147.09 480.02ZM145.71 480.93L144.86 481.5A18.09 18 0 0 0 145.92 482.92L146.71 482.27A17.06 16.98 0 0 1 145.71 480.93ZM152.51 477.53L152.27 477.73A9.88 9.83 0 0 0 152.92 478.45L153.14 478.23A9.56 9.51 0 0 1 152.51 477.53ZM147.99 481.22L147.38 481.72A16.2 16.11 0 0 0 148.45 482.89L149.01 482.34A15.4 15.33 0 0 1 147.99 481.22ZM146.71 482.27L145.92 482.92A18.09 18 0 0 0 147.11 484.23L147.83 483.5A17.06 16.98 0 0 1 146.71 482.27ZM153.14 478.23L152.92 478.45A9.88 9.83 0 0 0 153.64 479.09L153.84 478.85A9.56 9.51 0 0 1 153.14 478.23ZM148.45 482.89L147.83 483.5A17.06 16.98 0 0 0 149.07 484.62L149.63 483.96A16.2 16.11 0 0 1 148.45 482.89ZM153.64 479.09L153.38 479.4A10.27 10.22 0 0 0 154.19 480L154.41 479.67A9.88 9.83 0 0 1 153.64 479.09ZM154.41 479.67L154.19 480A10.27 10.22 0 0 0 155.06 480.51L155.24 480.16A9.88 9.83 0 0 1 154.41 479.67ZM155.06 480.51L154.87 480.86A10.66 10.61 0 0 0 155.82 481.3L155.97 480.94A10.27 10.22 0 0 1 155.06 480.51ZM155.97 480.94L155.82 481.3A10.66 10.61 0 0 0 156.8 481.65L156.92 481.28A10.27 10.22 0 0 1 155.97 480.94ZM156.92 481.28L156.8 481.65A10.66 10.61 0 0 0 157.82 481.91L157.9 481.52A10.27 10.22 0 0 1 156.92 481.28ZM157.82 481.91L157.74 482.29A11.06 11 0 0 0 158.82 482.45L158.85 482.06A10.66 10.61 0 0 1 157.82 481.91ZM158.82 482.45L158.77 482.92A11.53 11.48 0 0 0 159.9 482.98L159.9 482.5A11.06 11 0 0 1 158.82 482.45ZM159.9 482.98L159.9 483.53A12.09 12.03 0 0 0 161.08 483.47L161.03 482.92A11.53 11.48 0 0 1 159.9 482.98ZM161.08 483.47L161.2 484.64A13.27 13.2 0 0 0 162.49 484.45L162.26 483.29A12.09 12.03 0 0 1 161.08 483.47ZM162.38 483.91L162.49 484.45A13.27 13.2 0 0 0 163.75 484.14L163.59 483.61A12.72 12.65 0 0 1 162.38 483.91ZM163.75 484.14L163.94 484.74A13.9 13.83 0 0 0 165.22 484.28L164.98 483.7A13.27 13.2 0 0 1 163.75 484.14ZM165.22 484.28L165.8 485.66A15.4 15.33 0 0 0 167.16 485.02L166.45 483.7A13.9 13.83 0 0 1 165.22 484.28ZM166.79 484.32L167.53 485.71A16.2 16.11 0 0 0 168.9 484.9L168.02 483.59A14.61 14.54 0 0 1 166.79 484.32ZM168.9 484.9L169.38 485.62A17.06 16.98 0 0 0 170.73 484.62L170.17 483.96A16.2 16.11 0 0 1 168.9 484.9ZM170.73 484.62L172.08 486.26A19.2 19.1 0 0 0 173.47 485.01L171.97 483.5A17.06 16.98 0 0 1 170.73 484.62ZM173.47 485.01L174.26 485.78A20.3 20.2 0 0 0 175.59 484.31L174.74 483.62A19.2 19.1 0 0 1 173.47 485.01ZM176.51 485.06L177.49 485.86A22.75 22.64 0 0 0 178.82 484.08L177.77 483.38A21.49 21.38 0 0 1 176.51 485.06ZM178.82 484.08L181.25 485.69A25.68 25.55 0 0 0 182.54 483.54L179.97 482.17A22.75 22.64 0 0 1 178.82 484.08ZM182.54 483.54L185.75 485.25A29.31 29.16 0 0 0 186.98 482.66L183.62 481.28A25.68 25.55 0 0 1 182.54 483.54ZM186.98 482.66L190.92 484.28A33.58 33.41 0 0 0 192.03 481.2L187.95 479.96A29.31 29.16 0 0 1 186.98 482.66ZM192.03 481.2L194.3 481.88A35.95 35.76 0 0 0 195.15 478.48L192.83 478.02A33.58 33.41 0 0 1 192.03 481.2ZM186.79 476.82L192.83 478.02A33.58 33.41 0 0 0 193.31 474.77L187.18 474.17A27.41 27.27 0 0 1 186.79 476.82ZM185.45 474L187.18 474.17A27.41 27.27 0 0 0 187.31 471.5L185.58 471.5A25.68 25.55 0 0 1 185.45 474Z"/>
<path fill="none" stroke="#000" stroke-width="0.5" d="M167.8 471.5L286.3 471.5M167.76 470.73L285.69 459.17M167.65 469.97L283.87 446.97M167.46 469.22L280.86 434.99M167.2 468.49L276.68 423.37M166.87 467.79L271.37 412.22M166.47 467.13L265 401.63M166.01 466.51L257.61 391.72M165.49 465.94L249.28 382.57M164.91 465.42L240.09 374.29M164.29 464.96L230.12 366.93M163.62 464.57L219.48 360.59M162.92 464.24L208.27 355.31M162.19 463.98L196.59 351.16M161.44 463.79L184.56 348.16M160.67 463.68L172.29 346.35M159.9 463.64L159.9 345.74M159.13 463.68L147.51 346.35M158.36 463.79L135.24 348.16M157.61 463.98L123.21 351.16M156.88 464.24L111.53 355.31M156.18 464.57L100.32 360.59M155.51 464.96L89.68 366.93M154.89 465.42L79.71 374.29M154.31 465.94L70.52 382.57M153.79 466.51L62.19 391.72M153.33 467.13L54.8 401.63M152.93 467.79L48.43 412.22M152.6 468.49L43.12 423.37M152.34 469.22L38.94 434.99M152.15 469.97L35.93 446.97M152.04 470.73L34.11 459.17M152 471.5L33.5 471.5M152.04 472.27L34.11 483.83M152.15 473.03L35.93 496.03M152.34 473.78L38.94 508.01M152.6 474.51L43.12 519.63M152.93 475.21L48.43 530.78M153.33 475.87L54.8 541.37M153.79 476.49L62.19 551.28M154.31 477.06L70.52 560.43M154.89 477.58L79.71 568.71M155.51 478.04L89.68 576.07M156.18 478.43L100.32 582.41M156.88 478.76L111.53 587.69M157.61 479.02L123.21 591.84M158.36 479.21L135.24 594.84M159.13 479.32L147.51 596.65M159.9 479.36L159.9 597.26M160.67 479.32L172.29 596.65M161.44 479.21L184.56 594.84M162.19 479.02L196.59 591.84M162.92 478.76L208.27 587.69M163.62 478.43L219.48 582.41M164.29 478.04L230.12 576.07M164.91 477.58L240.09 568.71M165.49 477.06L249.28 560.43M166.01 476.49L257.61 551.28M166.47 475.87L265 541.37M166.87 475.21L271.37 530.78M167.2 474.51L276.68 519.63M167.46 473.78L280.86 508.01M167.65 473.03L283.87 496.03M167.76 472.27L285.69 483.83"/>
<g fill="none" stroke="#000" stroke-width="0.5"><ellipse cx="159.9" cy="471.5" rx="27.41" ry="27.27"/><ellipse cx="159.9" cy="471.5" rx="29.31" ry="29.16"/><ellipse cx="159.9" cy="471.5" rx="31.36" ry="31.2"/><ellipse cx="159.9" cy="471.5" rx="33.58" ry="33.41"/><ellipse cx="159.9" cy="471.5" rx="35.95" ry="35.76"/><ellipse cx="159.9" cy="471.5" rx="38.63" ry="38.44"/><ellipse cx="159.9" cy="471.5" rx="41.71" ry="41.5"/><ellipse cx="159.9" cy="471.5" rx="45.43" ry="45.2"/><ellipse cx="159.9" cy="471.5" rx="49.38" ry="49.12"/><ellipse cx="159.9" cy="471.5" rx="53.8" ry="53.53"/><ellipse cx="159.9" cy="471.5" rx="58.54" ry="58.24"/><ellipse cx="159.9" cy="471.5" rx="63.59" ry="63.27"/><ellipse cx="159.9" cy="471.5" rx="69.12" ry="68.77"/><ellipse cx="159.9" cy="471.5" rx="75.21" ry="74.83"/><ellipse cx="159.9" cy="471.5" rx="81.92" ry="81.51"/><ellipse cx="159.9" cy="471.5" rx="89.35" ry="88.9"/><ellipse cx="159.9" cy="471.5" rx="97.33" ry="96.84"/><ellipse cx="159.9" cy="471.5" rx="106.18" ry="105.64"/><ellipse cx="159.9" cy="471.5" rx="116.13" ry="115.54"/><ellipse cx="159.9" cy="471.5" rx="126.4" ry="125.76"/></g>
<g fill="none" stroke="#000" stroke-width="0.32"><ellipse cx="159.9" cy="471.5" rx="7.9" ry="7.86"/><ellipse cx="159.9" cy="471.5" rx="7.96" ry="7.92"/><ellipse cx="159.9" cy="471.5" rx="8.04" ry="8"/><ellipse cx="159.9" cy="471.5" rx="8.14" ry="8.1"/><ellipse cx="159.9" cy="471.5" rx="8.26" ry="8.21"/><ellipse cx="159.9" cy="471.5" rx="8.4" ry="8.36"/><ellipse cx="159.9" cy="471.5" rx="8.57" ry="8.53"/><ellipse cx="159.9" cy="471.5" rx="8.77" ry="8.72"/><ellipse cx="159.9" cy="471.5" rx="9.01" ry="8.96"/><ellipse cx="159.9" cy="471.5" rx="9.24" ry="9.2"/><ellipse cx="159.9" cy="471.5" rx="9.56" ry="9.51"/><ellipse cx="159.9" cy="471.5" rx="9.88" ry="9.83"/><ellipse cx="159.9" cy="471.5" rx="10.27" ry="10.22"/><ellipse cx="159.9" cy="471.5" rx="10.66" ry="10.61"/><ellipse cx="159.9" cy="471.5" rx="11.06" ry="11"/><ellipse cx="159.9" cy="471.5" rx="11.53" ry="11.48"/><ellipse cx="159.9" cy="471.5" rx="12.09" ry="12.03"/><ellipse cx="159.9" cy="471.5" rx="12.72" ry="12.65"/><ellipse cx="159.9" cy="471.5" rx="13.27" ry="13.2"/><ellipse cx="159.9" cy="471.5" rx="13.9" ry="13.83"/><ellipse cx="159.9" cy="471.5" rx="14.61" ry="14.54"/><ellipse cx="159.9" cy="471.5" rx="15.4" ry="15.33"/><ellipse cx="159.9" cy="471.5" rx="16.2" ry="16.11"/><ellipse cx="159.9" cy="471.5" rx="17.06" ry="16.98"/><ellipse cx="159.9" cy="471.5" rx="18.09" ry="18"/><ellipse cx="159.9" cy="471.5" rx="19.2" ry="19.1"/><ellipse cx="159.9" cy="471.5" rx="20.3" ry="20.2"/><ellipse cx="159.9" cy="471.5" rx="21.49" ry="21.38"/><ellipse cx="159.9" cy="471.5" rx="22.75" ry="22.64"/><ellipse cx="159.9" cy="471.5" rx="24.17" ry="24.05"/><ellipse cx="159.9" cy="471.5" rx="25.68" ry="25.55"/></g>
<ellipse cx="159.9" cy="471.5" rx="10.15" ry="10.1" fill="none" stroke="#000" stroke-width="4.49"/>
<ellipse cx="159.9" cy="471.5" rx="13.59" ry="13.52" fill="none" stroke="#000" stroke-opacity="0.45" stroke-width="2.36"/>
<ellipse cx="159.9" cy="471.5" rx="7.9" ry="7.86" fill="#fff"/>
<path fill="none" stroke="#222" stroke-width="1.1" d="M33.6 345.6L33.6 596.6M33.6 596.6L310.3 596.6"/>
<path fill="none" stroke="#222" stroke-width="1.5" d="M33.6 589.4h6M33.6 550.1h6M33.6 510.8h6M33.6 471.5h6M33.6 432.2h6M33.6 392.9h6M33.6 353.6h6M41.4 596.6v-6M80.9 596.6v-6M120.4 596.6v-6M159.9 596.6v-6M199.4 596.6v-6M238.9 596.6v-6M278.4 596.6v-6"/>
<path fill="none" stroke="#555" stroke-width="0.8" d="M33.6 581.54h3.3M33.6 573.68h3.3M33.6 565.82h3.3M33.6 557.96h3.3M33.6 542.24h3.3M33.6 534.38h3.3M33.6 526.52h3.3M33.6 518.66h3.3M33.6 502.94h3.3M33.6 495.08h3.3M33.6 487.22h3.3M33.6 479.36h3.3M33.6 463.64h3.3M33.6 455.78h3.3M33.6 447.92h3.3M33.6 440.06h3.3M33.6 424.34h3.3M33.6 416.48h3.3M33.6 408.62h3.3M33.6 400.76h3.3M33.6 385.04h3.3M33.6 377.18h3.3M33.6 369.32h3.3M33.6 361.46h3.3M33.6 345.74h3.3M33.5 596.6v-3.3M49.3 596.6v-3.3M57.2 596.6v-3.3M65.1 596.6v-3.3M73 596.6v-3.3M88.8 596.6v-3.3M96.7 596.6v-3.3M104.6 596.6v-3.3M112.5 596.6v-3.3M128.3 596.6v-3.3M136.2 596.6v-3.3M144.1 596.6v-3.3M152 596.6v-3.3M167.8 596.6v-3.3M175.7 596.6v-3.3M183.6 596.6v-3.3M191.5 596.6v-3.3M207.3 596.6v-3.3M215.2 596.6v-3.3M223.1 596.6v-3.3M231 596.6v-3.3M246.8 596.6v-3.3M254.7 596.6v-3.3M262.6 596.6v-3.3M270.5 596.6v-3.3M286.3 596.6v-3.3M294.2 596.6v-3.3M302.1 596.6v-3.3M310 596.6v-3.3"/>
<text x="29.3" y="357" font-family="Liberation Sans" font-size="9.6" font-weight="normal" font-style="normal" text-anchor="end" fill="#222">0.15</text>
<text x="29.3" y="396.3" font-family="Liberation Sans" font-size="9.6" font-weight="normal" font-style="normal" text-anchor="end" fill="#222">0.1</text>
<text x="29.3" y="435.6" font-family="Liberation Sans" font-size="9.6" font-weight="normal" font-style="normal" text-anchor="end" fill="#222">0.05</text>
<text x="29.3" y="474.9" font-family="Liberation Sans" font-size="9.6" font-weight="normal" font-style="normal" text-anchor="end" fill="#222">0</text>
<text x="29.3" y="514.2" font-family="Liberation Sans" font-size="9.6" font-weight="normal" font-style="normal" text-anchor="end" fill="#222">-0.05</text>
<text x="29.3" y="553.5" font-family="Liberation Sans" font-size="9.6" font-weight="normal" font-style="normal" text-anchor="end" fill="#222">-0.1</text>
<text x="29.3" y="592.8" font-family="Liberation Sans" font-size="9.6" font-weight="normal" font-style="normal" text-anchor="end" fill="#222">-0.15</text>
<text x="278.4" y="607.3" font-family="Liberation Sans" font-size="9.6" font-weight="normal" font-style="normal" text-anchor="middle" fill="#222">0.15</text>
<text x="238.9" y="607.3" font-family="Liberation Sans" font-size="9.6" font-weight="normal" font-style="normal" text-anchor="middle" fill="#222">0.1</text>
<text x="199.4" y="607.3" font-family="Liberation Sans" font-size="9.6" font-weight="normal" font-style="normal" text-anchor="middle" fill="#222">0.05</text>
<text x="159.9" y="607.3" font-family="Liberation Sans" font-size="9.6" font-weight="normal" font-style="normal" text-anchor="middle" fill="#222">0</text>
<text x="120.4" y="607.3" font-family="Liberation Sans" font-size="9.6" font-weight="normal" font-style="normal" text-anchor="middle" fill="#222">-0.05</text>
<text x="80.9" y="607.3" font-family="Liberation Sans" font-size="9.6" font-weight="normal" font-style="normal" text-anchor="middle" fill="#222">-0.1</text>
<text x="41.4" y="607.3" font-family="Liberation Sans" font-size="9.6" font-weight="normal" font-style="normal" text-anchor="middle" fill="#222">-0.15</text>
<text x="172" y="618.2" font-family="Liberation Sans" font-size="11.5" font-weight="bold" font-style="normal" text-anchor="middle" fill="#111">X</text>
<text x="0" y="0" font-family="Liberation Sans" font-size="11.5" font-weight="bold" font-style="normal" text-anchor="middle" fill="#111" transform="translate(11 471.8) rotate(-90)">Y</text>
<rect x="288.5" y="439.8" width="31" height="50.6" fill="#fff" stroke="#999" stroke-width="0.8"/>
<rect x="290.8" y="454.6" width="12.7" height="5" fill="#fff"/>
<rect x="290.8" y="459.3" width="12.7" height="9.8" fill="#ff0000"/>
<rect x="290.8" y="469.1" width="12.7" height="9.5" fill="#00ff00"/>
<rect x="290.8" y="478.6" width="12.7" height="5" fill="#0000ff"/>
<rect x="290.8" y="454.6" width="12.7" height="29" fill="none" stroke="#bbb" stroke-width="0.5"/>
<text x="313.3" y="462.7" font-family="Liberation Sans" font-size="9.2" font-weight="normal" font-style="normal" text-anchor="end" fill="#222">1</text>
<text x="313.3" y="472.6" font-family="Liberation Sans" font-size="9.2" font-weight="normal" font-style="normal" text-anchor="end" fill="#222">0</text>
<text x="313.3" y="482.6" font-family="Liberation Sans" font-size="9.2" font-weight="normal" font-style="normal" text-anchor="end" fill="#222">-1</text>
<text x="305.1" y="449.1" font-family="Liberation Sans" font-size="8.2" font-weight="normal" font-style="normal" text-anchor="start" fill="#222">T</text>
<text x="309.8" y="452" font-family="Liberation Sans" font-size="4.6" font-weight="normal" font-style="normal" text-anchor="start" fill="#222">cell</text>
<clipPath id="cd"><rect x="396.8" y="345.9" width="277.6" height="251.3"/></clipPath>
<g clip-path="url(#cd)">
<rect x="396.8" y="345.9" width="277.6" height="251.3" fill="#0000ff"/>
<ellipse cx="511.8" cy="470.8" rx="556" ry="551.2" fill="#0000ff"/>
<path fill="#ff0000" d="M546.55 470.8L624.74 470.8A112.94 111.96 0 0 0 624.19 459.83L546.38 467.42A34.75 34.45 0 0 1 546.55 470.8ZM546.38 467.42L631.8 459.08A120.58 119.54 0 0 0 630.07 447.48L545.88 464.08A34.75 34.45 0 0 1 546.38 467.42ZM545.88 464.08L656.65 442.24A147.69 146.41 0 0 0 653.13 428.3L545.05 460.8A34.75 34.45 0 0 1 545.88 464.08ZM545.05 460.8L635.17 433.7A128.92 127.81 0 0 0 630.91 421.89L543.9 457.62A34.75 34.45 0 0 1 545.05 460.8ZM543.9 457.62L616.14 427.95A112.94 111.96 0 0 0 611.4 418.02L542.45 454.56A34.75 34.45 0 0 1 543.9 457.62ZM542.45 454.56L600.06 424.03A100.08 99.22 0 0 0 595.01 415.68L540.69 451.66A34.75 34.45 0 0 1 542.45 454.56ZM540.69 451.66L590.39 418.74A94.52 93.7 0 0 0 584.86 411.35L538.66 448.95A34.75 34.45 0 0 1 540.69 451.66ZM538.66 448.95L577.07 417.69A84.44 83.71 0 0 0 571.51 411.61L536.37 446.44A34.75 34.45 0 0 1 538.66 448.95ZM536.37 446.44L564.88 418.18A75.06 74.41 0 0 0 559.42 413.28L533.85 444.17A34.75 34.45 0 0 1 536.37 446.44ZM533.85 444.17L556.99 416.21A71.24 70.62 0 0 0 551.38 412.08L531.11 442.16A34.75 34.45 0 0 1 533.85 444.17ZM531.11 442.16L547.52 417.81A64.29 63.73 0 0 0 542.1 414.59L528.18 440.42A34.75 34.45 0 0 1 531.11 442.16ZM528.18 440.42L540.63 417.33A61.16 60.63 0 0 0 535.2 414.78L525.1 438.97A34.75 34.45 0 0 1 528.18 440.42ZM525.1 438.97L534.14 417.33A58.38 57.88 0 0 0 528.75 415.42L521.89 437.83A34.75 34.45 0 0 1 525.1 438.97ZM521.89 437.83L528.04 417.72A55.95 55.46 0 0 0 522.71 416.4L518.58 437.01A34.75 34.45 0 0 1 521.89 437.83ZM518.58 437.01L522.17 419.1A53.17 52.71 0 0 0 517.01 418.35L515.21 436.52A34.75 34.45 0 0 1 518.58 437.01ZM515.21 436.52L516.77 420.75A50.73 50.3 0 0 0 511.8 420.5L511.8 436.35A34.75 34.45 0 0 1 515.21 436.52ZM511.8 436.35L511.8 422.57A48.65 48.23 0 0 0 507.03 422.8L508.39 436.52A34.75 34.45 0 0 1 511.8 436.35ZM508.39 436.52L507.2 424.52A46.91 46.51 0 0 0 502.65 425.19L505.02 437.01A34.75 34.45 0 0 1 508.39 436.52ZM505.02 437.01L502.99 426.88A45.17 44.78 0 0 0 498.69 427.94L501.71 437.83A34.75 34.45 0 0 1 505.02 437.01ZM501.71 437.83L498.69 427.94A45.17 44.78 0 0 0 494.51 429.42L498.5 438.97A34.75 34.45 0 0 1 501.71 437.83ZM498.5 438.97L494.51 429.42A45.17 44.78 0 0 0 490.5 431.3L495.42 440.42A34.75 34.45 0 0 1 498.5 438.97ZM495.42 440.42L491.32 432.82A43.44 43.06 0 0 0 487.67 434.99L492.49 442.16A34.75 34.45 0 0 1 495.42 440.42ZM492.49 442.16L487.67 434.99A43.44 43.06 0 0 0 484.24 437.51L489.75 444.17A34.75 34.45 0 0 1 492.49 442.16ZM489.75 444.17L485.13 438.58A42.05 41.68 0 0 0 482.07 441.32L487.23 446.44A34.75 34.45 0 0 1 489.75 444.17ZM487.23 446.44L482.07 441.32A42.05 41.68 0 0 0 479.3 444.36L484.94 448.95A34.75 34.45 0 0 1 487.23 446.44ZM461.43 420.86L458.72 418.18A75.06 74.41 0 0 0 453.78 423.59L456.73 426A71.24 70.62 0 0 1 461.43 420.86ZM484.94 448.95L480.37 445.23A40.66 40.31 0 0 0 477.99 448.41L482.91 451.66A34.75 34.45 0 0 1 484.94 448.95ZM456.73 426L453.78 423.59A75.06 74.41 0 0 0 449.39 429.46L452.57 431.56A71.24 70.62 0 0 1 456.73 426ZM482.91 451.66L477.99 448.41A40.66 40.31 0 0 0 475.94 451.8L481.15 454.56A34.75 34.45 0 0 1 482.91 451.66ZM455.46 433.48L449.39 429.46A75.06 74.41 0 0 0 445.6 435.72L452.04 439.13A67.76 67.18 0 0 1 455.46 433.48ZM481.15 454.56L475.94 451.8A40.66 40.31 0 0 0 474.24 455.38L479.7 457.62A34.75 34.45 0 0 1 481.15 454.56ZM455.1 440.76L445.6 435.72A75.06 74.41 0 0 0 442.45 442.32L452.41 446.41A64.29 63.73 0 0 1 455.1 440.76ZM479.7 457.62L474.24 455.38A40.66 40.31 0 0 0 472.89 459.1L478.55 460.8A34.75 34.45 0 0 1 479.7 457.62ZM452.41 446.41L442.45 442.32A75.06 74.41 0 0 0 439.97 449.2L450.28 452.3A64.29 63.73 0 0 1 452.41 446.41ZM478.55 460.8L472.89 459.1A40.66 40.31 0 0 0 471.92 462.94L477.72 464.08A34.75 34.45 0 0 1 478.55 460.8ZM453.27 453.2L439.97 449.2A75.06 74.41 0 0 0 438.18 456.28L451.82 458.97A61.16 60.63 0 0 1 453.27 453.2ZM477.72 464.08L471.92 462.94A40.66 40.31 0 0 0 471.34 466.85L477.22 467.42A34.75 34.45 0 0 1 477.72 464.08ZM451.82 458.97L438.18 456.28A75.06 74.41 0 0 0 437.1 463.51L450.93 464.86A61.16 60.63 0 0 1 451.82 458.97ZM477.22 467.42L471.34 466.85A40.66 40.31 0 0 0 471.14 470.8L477.05 470.8A34.75 34.45 0 0 1 477.22 467.42ZM450.93 464.86L437.1 463.51A75.06 74.41 0 0 0 436.74 470.8L450.64 470.8A61.16 60.63 0 0 1 450.93 464.86ZM477.05 470.8L471.14 470.8A40.66 40.31 0 0 0 471.34 474.75L477.22 474.18A34.75 34.45 0 0 1 477.05 470.8ZM450.64 470.8L436.74 470.8A75.06 74.41 0 0 0 437.1 478.09L450.93 476.74A61.16 60.63 0 0 1 450.64 470.8ZM477.22 474.18L471.34 474.75A40.66 40.31 0 0 0 471.92 478.66L477.72 477.52A34.75 34.45 0 0 1 477.22 474.18ZM450.93 476.74L437.1 478.09A75.06 74.41 0 0 0 438.18 485.32L451.82 482.63A61.16 60.63 0 0 1 450.93 476.74ZM477.72 477.52L471.92 478.66A40.66 40.31 0 0 0 472.89 482.5L478.55 480.8A34.75 34.45 0 0 1 477.72 477.52ZM451.82 482.63L438.18 485.32A75.06 74.41 0 0 0 439.97 492.4L453.27 488.4A61.16 60.63 0 0 1 451.82 482.63ZM478.55 480.8L472.89 482.5A40.66 40.31 0 0 0 474.24 486.22L479.7 483.98A34.75 34.45 0 0 1 478.55 480.8ZM450.28 489.3L439.97 492.4A75.06 74.41 0 0 0 442.45 499.28L452.41 495.19A64.29 63.73 0 0 1 450.28 489.3ZM479.7 483.98L474.24 486.22A40.66 40.31 0 0 0 475.94 489.8L481.15 487.04A34.75 34.45 0 0 1 479.7 483.98ZM452.41 495.19L442.45 499.28A75.06 74.41 0 0 0 445.6 505.88L455.1 500.84A64.29 63.73 0 0 1 452.41 495.19ZM481.15 487.04L475.94 489.8A40.66 40.31 0 0 0 477.99 493.19L482.91 489.94A34.75 34.45 0 0 1 481.15 487.04ZM452.04 502.47L445.6 505.88A75.06 74.41 0 0 0 449.39 512.14L455.46 508.12A67.76 67.18 0 0 1 452.04 502.47ZM482.91 489.94L477.99 493.19A40.66 40.31 0 0 0 480.37 496.37L484.94 492.65A34.75 34.45 0 0 1 482.91 489.94ZM452.57 510.04L449.39 512.14A75.06 74.41 0 0 0 453.78 518.01L456.73 515.6A71.24 70.62 0 0 1 452.57 510.04ZM484.94 492.65L479.3 497.24A42.05 41.68 0 0 0 482.07 500.28L487.23 495.16A34.75 34.45 0 0 1 484.94 492.65ZM456.73 515.6L453.78 518.01A75.06 74.41 0 0 0 458.72 523.42L461.43 520.74A71.24 70.62 0 0 1 456.73 515.6ZM487.23 495.16L482.07 500.28A42.05 41.68 0 0 0 485.13 503.02L489.75 497.43A34.75 34.45 0 0 1 487.23 495.16ZM489.75 497.43L484.24 504.09A43.44 43.06 0 0 0 487.67 506.61L492.49 499.44A34.75 34.45 0 0 1 489.75 497.43ZM492.49 499.44L487.67 506.61A43.44 43.06 0 0 0 491.32 508.78L495.42 501.18A34.75 34.45 0 0 1 492.49 499.44ZM495.42 501.18L490.5 510.3A45.17 44.78 0 0 0 494.51 512.18L498.5 502.63A34.75 34.45 0 0 1 495.42 501.18ZM498.5 502.63L494.51 512.18A45.17 44.78 0 0 0 498.69 513.66L501.71 503.77A34.75 34.45 0 0 1 498.5 502.63ZM501.71 503.77L498.69 513.66A45.17 44.78 0 0 0 502.99 514.72L505.02 504.59A34.75 34.45 0 0 1 501.71 503.77ZM505.02 504.59L502.65 516.41A46.91 46.51 0 0 0 507.2 517.08L508.39 505.08A34.75 34.45 0 0 1 505.02 504.59ZM508.39 505.08L507.03 518.8A48.65 48.23 0 0 0 511.8 519.03L511.8 505.25A34.75 34.45 0 0 1 508.39 505.08ZM511.8 505.25L511.8 521.1A50.73 50.3 0 0 0 516.77 520.85L515.21 505.08A34.75 34.45 0 0 1 511.8 505.25ZM515.21 505.08L517.01 523.25A53.17 52.71 0 0 0 522.17 522.5L518.58 504.59A34.75 34.45 0 0 1 515.21 505.08ZM518.58 504.59L522.71 525.2A55.95 55.46 0 0 0 528.04 523.88L521.89 503.77A34.75 34.45 0 0 1 518.58 504.59ZM521.89 503.77L528.75 526.18A58.38 57.88 0 0 0 534.14 524.27L525.1 502.63A34.75 34.45 0 0 1 521.89 503.77ZM525.1 502.63L535.2 526.82A61.16 60.63 0 0 0 540.63 524.27L528.18 501.18A34.75 34.45 0 0 1 525.1 502.63ZM528.18 501.18L542.1 527.01A64.29 63.73 0 0 0 547.52 523.79L531.11 499.44A34.75 34.45 0 0 1 528.18 501.18ZM531.11 499.44L551.38 529.52A71.24 70.62 0 0 0 556.99 525.39L533.85 497.43A34.75 34.45 0 0 1 531.11 499.44ZM533.85 497.43L559.42 528.32A75.06 74.41 0 0 0 564.88 523.42L536.37 495.16A34.75 34.45 0 0 1 533.85 497.43ZM536.37 495.16L571.51 529.99A84.44 83.71 0 0 0 577.07 523.91L538.66 492.65A34.75 34.45 0 0 1 536.37 495.16ZM538.66 492.65L584.86 530.25A94.52 93.7 0 0 0 590.39 522.86L540.69 489.94A34.75 34.45 0 0 1 538.66 492.65ZM540.69 489.94L595.01 525.92A100.08 99.22 0 0 0 600.06 517.57L542.45 487.04A34.75 34.45 0 0 1 540.69 489.94ZM542.45 487.04L611.4 523.58A112.94 111.96 0 0 0 616.14 513.65L543.9 483.98A34.75 34.45 0 0 1 542.45 487.04ZM543.9 483.98L630.91 519.71A128.92 127.81 0 0 0 635.17 507.9L545.05 480.8A34.75 34.45 0 0 1 543.9 483.98ZM545.05 480.8L653.13 513.3A147.69 146.41 0 0 0 656.65 499.36L545.88 477.52A34.75 34.45 0 0 1 545.05 480.8ZM545.88 477.52L630.07 494.12A120.58 119.54 0 0 0 631.8 482.52L546.38 474.18A34.75 34.45 0 0 1 545.88 477.52ZM546.38 474.18L624.19 481.77A112.94 111.96 0 0 0 624.74 470.8L546.55 470.8A34.75 34.45 0 0 1 546.38 474.18Z"/>
<path fill="#00ff00" d="M624.74 470.8L632.38 470.8A120.58 119.54 0 0 0 631.8 459.08L624.19 459.83A112.94 111.96 0 0 1 624.74 470.8ZM631.8 459.08L658.78 456.45A147.69 146.41 0 0 0 656.65 442.24L630.07 447.48A120.58 119.54 0 0 1 631.8 459.08ZM656.65 442.24L666.87 440.22A158.11 156.75 0 0 0 663.1 425.3L653.13 428.3A147.69 146.41 0 0 1 656.65 442.24ZM635.17 433.7L653.13 428.3A147.69 146.41 0 0 0 648.25 414.77L630.91 421.89A128.92 127.81 0 0 1 635.17 433.7ZM616.14 427.95L630.91 421.89A128.92 127.81 0 0 0 625.5 410.55L611.4 418.02A112.94 111.96 0 0 1 616.14 427.95ZM600.06 424.03L611.4 418.02A112.94 111.96 0 0 0 605.7 408.6L595.01 415.68A100.08 99.22 0 0 1 600.06 424.03ZM590.39 418.74L595.01 415.68A100.08 99.22 0 0 0 589.16 407.86L584.86 411.35A94.52 93.7 0 0 1 590.39 418.74ZM577.07 417.69L580.84 414.63A89.31 88.54 0 0 0 574.95 408.2L571.51 411.61A84.44 83.71 0 0 1 577.07 417.69ZM564.88 418.18L571.51 411.61A84.44 83.71 0 0 0 565.37 406.09L559.42 413.28A75.06 74.41 0 0 1 564.88 418.18ZM556.99 416.21L559.42 413.28A75.06 74.41 0 0 0 553.5 408.93L551.38 412.08A71.24 70.62 0 0 1 556.99 416.21ZM547.52 417.81L551.38 412.08A71.24 70.62 0 0 0 545.38 408.52L542.1 414.59A64.29 63.73 0 0 1 547.52 417.81ZM540.63 417.33L543.74 411.55A67.76 67.18 0 0 0 537.73 408.74L535.2 414.78A61.16 60.63 0 0 1 540.63 417.33ZM534.14 417.33L535.2 414.78A61.16 60.63 0 0 0 529.55 412.78L528.75 415.42A58.38 57.88 0 0 1 534.14 417.33ZM528.04 417.72L528.75 415.42A58.38 57.88 0 0 0 523.19 414.04L522.71 416.4A55.95 55.46 0 0 1 528.04 417.72ZM522.17 419.1L523.19 414.04A58.38 57.88 0 0 0 517.52 413.2L517.01 418.35A53.17 52.71 0 0 1 522.17 419.1ZM516.77 420.75L517.01 418.35A53.17 52.71 0 0 0 511.8 418.09L511.8 420.5A50.73 50.3 0 0 1 516.77 420.75ZM511.8 422.57L511.8 420.5A50.73 50.3 0 0 0 506.83 420.75L507.03 422.8A48.65 48.23 0 0 1 511.8 422.57ZM507.2 424.52L507.03 422.8A48.65 48.23 0 0 0 502.31 423.5L502.65 425.19A46.91 46.51 0 0 1 507.2 424.52ZM502.99 426.88L502.65 425.19A46.91 46.51 0 0 0 498.18 426.3L498.69 427.94A45.17 44.78 0 0 1 502.99 426.88ZM498.69 427.94L498.18 426.3A46.91 46.51 0 0 0 493.85 427.83L494.51 429.42A45.17 44.78 0 0 1 498.69 427.94ZM494.51 429.42L493.85 427.83A46.91 46.51 0 0 0 489.69 429.78L490.5 431.3A45.17 44.78 0 0 1 494.51 429.42ZM491.32 432.82L490.5 431.3A45.17 44.78 0 0 0 486.7 433.56L487.67 434.99A43.44 43.06 0 0 1 491.32 432.82ZM487.67 434.99L486.7 433.56A45.17 44.78 0 0 0 483.14 436.18L484.24 437.51A43.44 43.06 0 0 1 487.67 434.99ZM485.13 438.58L484.24 437.51A43.44 43.06 0 0 0 481.09 440.35L482.07 441.32A42.05 41.68 0 0 1 485.13 438.58ZM466.61 416.21L464.18 413.28A75.06 74.41 0 0 0 458.72 418.18L461.43 420.86A71.24 70.62 0 0 1 466.61 416.21ZM482.07 441.32L481.09 440.35A43.44 43.06 0 0 0 478.22 443.48L479.3 444.36A42.05 41.68 0 0 1 482.07 441.32ZM463.88 423.3L461.43 420.86A71.24 70.62 0 0 0 456.73 426L459.42 428.18A67.76 67.18 0 0 1 463.88 423.3ZM458.72 418.18L455.53 415.02A79.58 78.89 0 0 0 450.29 420.75L453.78 423.59A75.06 74.41 0 0 1 458.72 418.18ZM480.37 445.23L479.3 444.36A42.05 41.68 0 0 0 476.84 447.64L477.99 448.41A40.66 40.31 0 0 1 480.37 445.23ZM459.42 428.18L456.73 426A71.24 70.62 0 0 0 452.57 431.56L455.46 433.48A67.76 67.18 0 0 1 459.42 428.18ZM453.78 423.59L450.29 420.75A79.58 78.89 0 0 0 445.63 426.97L449.39 429.46A75.06 74.41 0 0 1 453.78 423.59ZM477.99 448.41L476.84 447.64A42.05 41.68 0 0 0 474.72 451.15L475.94 451.8A40.66 40.31 0 0 1 477.99 448.41ZM458.35 435.39L455.46 433.48A67.76 67.18 0 0 0 452.04 439.13L455.1 440.76A64.29 63.73 0 0 1 458.35 435.39ZM449.39 429.46L445.63 426.97A79.58 78.89 0 0 0 441.62 433.61L445.6 435.72A75.06 74.41 0 0 1 449.39 429.46ZM475.94 451.8L474.72 451.15A42.05 41.68 0 0 0 472.95 454.85L474.24 455.38A40.66 40.31 0 0 1 475.94 451.8ZM457.86 442.22L455.1 440.76A64.29 63.73 0 0 0 452.41 446.41L455.3 447.6A61.16 60.63 0 0 1 457.86 442.22ZM445.6 435.72L441.62 433.61A79.58 78.89 0 0 0 438.28 440.61L442.45 442.32A75.06 74.41 0 0 1 445.6 435.72ZM474.24 455.38L472.95 454.85A42.05 41.68 0 0 0 471.56 458.7L472.89 459.1A40.66 40.31 0 0 1 474.24 455.38ZM455.3 447.6L452.41 446.41A64.29 63.73 0 0 0 450.28 452.3L453.27 453.2A61.16 60.63 0 0 1 455.3 447.6ZM442.45 442.32L438.28 440.61A79.58 78.89 0 0 0 435.65 447.9L439.97 449.2A75.06 74.41 0 0 1 442.45 442.32ZM472.89 459.1L471.56 458.7A42.05 41.68 0 0 0 470.56 462.67L471.92 462.94A40.66 40.31 0 0 1 472.89 459.1ZM455.93 454L453.27 453.2A61.16 60.63 0 0 0 451.82 458.97L454.54 459.51A58.38 57.88 0 0 1 455.93 454ZM439.97 449.2L435.65 447.9A79.58 78.89 0 0 0 433.75 455.41L438.18 456.28A75.06 74.41 0 0 1 439.97 449.2ZM471.92 462.94L470.56 462.67A42.05 41.68 0 0 0 469.95 466.71L471.34 466.85A40.66 40.31 0 0 1 471.92 462.94ZM454.54 459.51L451.82 458.97A61.16 60.63 0 0 0 450.93 464.86L453.7 465.13A58.38 57.88 0 0 1 454.54 459.51ZM438.18 456.28L433.75 455.41A79.58 78.89 0 0 0 432.61 463.07L437.1 463.51A75.06 74.41 0 0 1 438.18 456.28ZM471.34 466.85L469.95 466.71A42.05 41.68 0 0 0 469.75 470.8L471.14 470.8A40.66 40.31 0 0 1 471.34 466.85ZM453.7 465.13L450.93 464.86A61.16 60.63 0 0 0 450.64 470.8L453.42 470.8A58.38 57.88 0 0 1 453.7 465.13ZM437.1 463.51L432.61 463.07A79.58 78.89 0 0 0 432.22 470.8L436.74 470.8A75.06 74.41 0 0 1 437.1 463.51ZM471.14 470.8L469.75 470.8A42.05 41.68 0 0 0 469.95 474.89L471.34 474.75A40.66 40.31 0 0 1 471.14 470.8ZM453.42 470.8L450.64 470.8A61.16 60.63 0 0 0 450.93 476.74L453.7 476.47A58.38 57.88 0 0 1 453.42 470.8ZM436.74 470.8L432.22 470.8A79.58 78.89 0 0 0 432.61 478.53L437.1 478.09A75.06 74.41 0 0 1 436.74 470.8ZM471.34 474.75L469.95 474.89A42.05 41.68 0 0 0 470.56 478.93L471.92 478.66A40.66 40.31 0 0 1 471.34 474.75ZM453.7 476.47L450.93 476.74A61.16 60.63 0 0 0 451.82 482.63L454.54 482.09A58.38 57.88 0 0 1 453.7 476.47ZM437.1 478.09L432.61 478.53A79.58 78.89 0 0 0 433.75 486.19L438.18 485.32A75.06 74.41 0 0 1 437.1 478.09ZM471.92 478.66L470.56 478.93A42.05 41.68 0 0 0 471.56 482.9L472.89 482.5A40.66 40.31 0 0 1 471.92 478.66ZM454.54 482.09L451.82 482.63A61.16 60.63 0 0 0 453.27 488.4L455.93 487.6A58.38 57.88 0 0 1 454.54 482.09ZM438.18 485.32L433.75 486.19A79.58 78.89 0 0 0 435.65 493.7L439.97 492.4A75.06 74.41 0 0 1 438.18 485.32ZM472.89 482.5L471.56 482.9A42.05 41.68 0 0 0 472.95 486.75L474.24 486.22A40.66 40.31 0 0 1 472.89 482.5ZM453.27 488.4L450.28 489.3A64.29 63.73 0 0 0 452.41 495.19L455.3 494A61.16 60.63 0 0 1 453.27 488.4ZM439.97 492.4L435.65 493.7A79.58 78.89 0 0 0 438.28 500.99L442.45 499.28A75.06 74.41 0 0 1 439.97 492.4ZM474.24 486.22L472.95 486.75A42.05 41.68 0 0 0 474.72 490.45L475.94 489.8A40.66 40.31 0 0 1 474.24 486.22ZM455.3 494L452.41 495.19A64.29 63.73 0 0 0 455.1 500.84L457.86 499.38A61.16 60.63 0 0 1 455.3 494ZM442.45 499.28L438.28 500.99A79.58 78.89 0 0 0 441.62 507.99L445.6 505.88A75.06 74.41 0 0 1 442.45 499.28ZM475.94 489.8L474.72 490.45A42.05 41.68 0 0 0 476.84 493.96L477.99 493.19A40.66 40.31 0 0 1 475.94 489.8ZM455.1 500.84L452.04 502.47A67.76 67.18 0 0 0 455.46 508.12L458.35 506.21A64.29 63.73 0 0 1 455.1 500.84ZM445.6 505.88L441.62 507.99A79.58 78.89 0 0 0 445.63 514.63L449.39 512.14A75.06 74.41 0 0 1 445.6 505.88ZM477.99 493.19L476.84 493.96A42.05 41.68 0 0 0 479.3 497.24L480.37 496.37A40.66 40.31 0 0 1 477.99 493.19ZM455.46 508.12L452.57 510.04A71.24 70.62 0 0 0 456.73 515.6L459.42 513.42A67.76 67.18 0 0 1 455.46 508.12ZM449.39 512.14L445.63 514.63A79.58 78.89 0 0 0 450.29 520.85L453.78 518.01A75.06 74.41 0 0 1 449.39 512.14ZM479.3 497.24L478.22 498.12A43.44 43.06 0 0 0 481.09 501.25L482.07 500.28A42.05 41.68 0 0 1 479.3 497.24ZM459.42 513.42L456.73 515.6A71.24 70.62 0 0 0 461.43 520.74L463.88 518.3A67.76 67.18 0 0 1 459.42 513.42ZM453.78 518.01L450.29 520.85A79.58 78.89 0 0 0 455.53 526.58L458.72 523.42A75.06 74.41 0 0 1 453.78 518.01ZM482.07 500.28L481.09 501.25A43.44 43.06 0 0 0 484.24 504.09L485.13 503.02A42.05 41.68 0 0 1 482.07 500.28ZM461.43 520.74L458.72 523.42A75.06 74.41 0 0 0 464.18 528.32L466.61 525.39A71.24 70.62 0 0 1 461.43 520.74ZM484.24 504.09L483.14 505.42A45.17 44.78 0 0 0 486.7 508.04L487.67 506.61A43.44 43.06 0 0 1 484.24 504.09ZM487.67 506.61L486.7 508.04A45.17 44.78 0 0 0 490.5 510.3L491.32 508.78A43.44 43.06 0 0 1 487.67 506.61ZM490.5 510.3L489.69 511.82A46.91 46.51 0 0 0 493.85 513.77L494.51 512.18A45.17 44.78 0 0 1 490.5 510.3ZM494.51 512.18L493.85 513.77A46.91 46.51 0 0 0 498.18 515.3L498.69 513.66A45.17 44.78 0 0 1 494.51 512.18ZM498.69 513.66L498.18 515.3A46.91 46.51 0 0 0 502.65 516.41L502.99 514.72A45.17 44.78 0 0 1 498.69 513.66ZM502.65 516.41L502.31 518.1A48.65 48.23 0 0 0 507.03 518.8L507.2 517.08A46.91 46.51 0 0 1 502.65 516.41ZM507.03 518.8L506.83 520.85A50.73 50.3 0 0 0 511.8 521.1L511.8 519.03A48.65 48.23 0 0 1 507.03 518.8ZM511.8 521.1L511.8 523.51A53.17 52.71 0 0 0 517.01 523.25L516.77 520.85A50.73 50.3 0 0 1 511.8 521.1ZM517.01 523.25L517.52 528.4A58.38 57.88 0 0 0 523.19 527.56L522.17 522.5A53.17 52.71 0 0 1 517.01 523.25ZM522.71 525.2L523.19 527.56A58.38 57.88 0 0 0 528.75 526.18L528.04 523.88A55.95 55.46 0 0 1 522.71 525.2ZM528.75 526.18L529.55 528.82A61.16 60.63 0 0 0 535.2 526.82L534.14 524.27A58.38 57.88 0 0 1 528.75 526.18ZM535.2 526.82L537.73 532.86A67.76 67.18 0 0 0 543.74 530.05L540.63 524.27A61.16 60.63 0 0 1 535.2 526.82ZM542.1 527.01L545.38 533.08A71.24 70.62 0 0 0 551.38 529.52L547.52 523.79A64.29 63.73 0 0 1 542.1 527.01ZM551.38 529.52L553.5 532.67A75.06 74.41 0 0 0 559.42 528.32L556.99 525.39A71.24 70.62 0 0 1 551.38 529.52ZM559.42 528.32L565.37 535.51A84.44 83.71 0 0 0 571.51 529.99L564.88 523.42A75.06 74.41 0 0 1 559.42 528.32ZM571.51 529.99L574.95 533.4A89.31 88.54 0 0 0 580.84 526.97L577.07 523.91A84.44 83.71 0 0 1 571.51 529.99ZM584.86 530.25L589.16 533.74A100.08 99.22 0 0 0 595.01 525.92L590.39 522.86A94.52 93.7 0 0 1 584.86 530.25ZM595.01 525.92L605.7 533A112.94 111.96 0 0 0 611.4 523.58L600.06 517.57A100.08 99.22 0 0 1 595.01 525.92ZM611.4 523.58L625.5 531.05A128.92 127.81 0 0 0 630.91 519.71L616.14 513.65A112.94 111.96 0 0 1 611.4 523.58ZM630.91 519.71L648.25 526.83A147.69 146.41 0 0 0 653.13 513.3L635.17 507.9A128.92 127.81 0 0 1 630.91 519.71ZM653.13 513.3L663.1 516.3A158.11 156.75 0 0 0 666.87 501.38L656.65 499.36A147.69 146.41 0 0 1 653.13 513.3ZM630.07 494.12L656.65 499.36A147.69 146.41 0 0 0 658.78 485.15L631.8 482.52A120.58 119.54 0 0 1 630.07 494.12ZM624.19 481.77L631.8 482.52A120.58 119.54 0 0 0 632.38 470.8L624.74 470.8A112.94 111.96 0 0 1 624.19 481.77Z"/>
<path fill="none" stroke="#000" stroke-width="0.5" d="M546.55 470.8L1067.8 470.8M546.38 467.42L1065.12 416.77M545.88 464.08L1057.12 363.27M545.05 460.8L1043.86 310.8M543.9 457.62L1025.48 259.86M542.45 454.56L1002.15 210.97M540.69 451.66L974.1 164.57M538.66 448.95L941.59 121.12M536.37 446.44L904.95 81.04M533.85 444.17L864.52 44.72M531.11 442.16L820.7 12.49M528.18 440.42L773.9 -15.32M525.1 438.97L724.57 -38.44M521.89 437.83L673.2 -56.67M518.58 437.01L620.27 -69.81M515.21 436.52L566.3 -77.75M511.8 436.35L511.8 -80.4M508.39 436.52L457.3 -77.75M505.02 437.01L403.33 -69.81M501.71 437.83L350.4 -56.67M498.5 438.97L299.03 -38.44M495.42 440.42L249.7 -15.32M492.49 442.16L202.9 12.49M489.75 444.17L159.08 44.72M487.23 446.44L118.65 81.04M484.94 448.95L82.01 121.12M482.91 451.66L49.5 164.57M481.15 454.56L21.45 210.97M479.7 457.62L-1.88 259.86M478.55 460.8L-20.26 310.8M477.72 464.08L-33.52 363.27M477.22 467.42L-41.52 416.77M477.05 470.8L-44.2 470.8M477.22 474.18L-41.52 524.83M477.72 477.52L-33.52 578.33M478.55 480.8L-20.26 630.8M479.7 483.98L-1.88 681.74M481.15 487.04L21.45 730.63M482.91 489.94L49.5 777.03M484.94 492.65L82.01 820.48M487.23 495.16L118.65 860.56M489.75 497.43L159.08 896.88M492.49 499.44L202.9 929.11M495.42 501.18L249.7 956.92M498.5 502.63L299.03 980.04M501.71 503.77L350.4 998.27M505.02 504.59L403.33 1011.41M508.39 505.08L457.3 1019.35M511.8 505.25L511.8 1022M515.21 505.08L566.3 1019.35M518.58 504.59L620.27 1011.41M521.89 503.77L673.2 998.27M525.1 502.63L724.57 980.04M528.18 501.18L773.9 956.92M531.11 499.44L820.7 929.11M533.85 497.43L864.52 896.88M536.37 495.16L904.95 860.56M538.66 492.65L941.59 820.48M540.69 489.94L974.1 777.03M542.45 487.04L1002.15 730.63M543.9 483.98L1025.48 681.74M545.05 480.8L1043.86 630.8M545.88 477.52L1057.12 578.33M546.38 474.18L1065.12 524.83"/>
<g fill="none" stroke="#000" stroke-width="0.5"><ellipse cx="511.8" cy="470.8" rx="34.75" ry="34.45"/><ellipse cx="511.8" cy="470.8" rx="35.03" ry="34.73"/><ellipse cx="511.8" cy="470.8" rx="35.38" ry="35.07"/><ellipse cx="511.8" cy="470.8" rx="35.79" ry="35.48"/><ellipse cx="511.8" cy="470.8" rx="36.31" ry="36"/><ellipse cx="511.8" cy="470.8" rx="36.94" ry="36.62"/><ellipse cx="511.8" cy="470.8" rx="37.7" ry="37.38"/><ellipse cx="511.8" cy="470.8" rx="38.57" ry="38.24"/><ellipse cx="511.8" cy="470.8" rx="39.62" ry="39.27"/><ellipse cx="511.8" cy="470.8" rx="40.66" ry="40.31"/><ellipse cx="511.8" cy="470.8" rx="42.05" ry="41.68"/><ellipse cx="511.8" cy="470.8" rx="43.44" ry="43.06"/><ellipse cx="511.8" cy="470.8" rx="45.17" ry="44.78"/><ellipse cx="511.8" cy="470.8" rx="46.91" ry="46.51"/><ellipse cx="511.8" cy="470.8" rx="48.65" ry="48.23"/><ellipse cx="511.8" cy="470.8" rx="50.73" ry="50.3"/><ellipse cx="511.8" cy="470.8" rx="53.17" ry="52.71"/><ellipse cx="511.8" cy="470.8" rx="55.95" ry="55.46"/><ellipse cx="511.8" cy="470.8" rx="58.38" ry="57.88"/><ellipse cx="511.8" cy="470.8" rx="61.16" ry="60.63"/><ellipse cx="511.8" cy="470.8" rx="64.29" ry="63.73"/><ellipse cx="511.8" cy="470.8" rx="67.76" ry="67.18"/><ellipse cx="511.8" cy="470.8" rx="71.24" ry="70.62"/><ellipse cx="511.8" cy="470.8" rx="75.06" ry="74.41"/><ellipse cx="511.8" cy="470.8" rx="79.58" ry="78.89"/><ellipse cx="511.8" cy="470.8" rx="84.44" ry="83.71"/><ellipse cx="511.8" cy="470.8" rx="89.31" ry="88.54"/><ellipse cx="511.8" cy="470.8" rx="94.52" ry="93.7"/><ellipse cx="511.8" cy="470.8" rx="100.08" ry="99.22"/><ellipse cx="511.8" cy="470.8" rx="106.33" ry="105.42"/><ellipse cx="511.8" cy="470.8" rx="112.94" ry="111.96"/><ellipse cx="511.8" cy="470.8" rx="120.58" ry="119.54"/><ellipse cx="511.8" cy="470.8" rx="128.92" ry="127.81"/><ellipse cx="511.8" cy="470.8" rx="137.96" ry="136.77"/><ellipse cx="511.8" cy="470.8" rx="147.69" ry="146.41"/><ellipse cx="511.8" cy="470.8" rx="158.11" ry="156.75"/><ellipse cx="511.8" cy="470.8" rx="169.93" ry="168.46"/><ellipse cx="511.8" cy="470.8" rx="183.48" ry="181.9"/><ellipse cx="511.8" cy="470.8" rx="199.81" ry="198.09"/><ellipse cx="511.8" cy="470.8" rx="217.19" ry="215.31"/><ellipse cx="511.8" cy="470.8" rx="236.65" ry="234.6"/><ellipse cx="511.8" cy="470.8" rx="257.5" ry="255.27"/><ellipse cx="511.8" cy="470.8" rx="279.74" ry="277.32"/><ellipse cx="511.8" cy="470.8" rx="304.06" ry="301.44"/><ellipse cx="511.8" cy="470.8" rx="330.82" ry="327.96"/><ellipse cx="511.8" cy="470.8" rx="360.36" ry="357.25"/><ellipse cx="511.8" cy="470.8" rx="393.02" ry="389.63"/><ellipse cx="511.8" cy="470.8" rx="428.12" ry="424.42"/><ellipse cx="511.8" cy="470.8" rx="467.04" ry="463.01"/><ellipse cx="511.8" cy="470.8" rx="510.82" ry="506.41"/><ellipse cx="511.8" cy="470.8" rx="556" ry="551.2"/></g>
<ellipse cx="511.8" cy="470.8" rx="36.84" ry="36.52" fill="none" stroke="#000" stroke-width="4.15"/>
<ellipse cx="511.8" cy="470.8" rx="40.31" ry="39.96" fill="none" stroke="#000" stroke-opacity="0.4" stroke-width="2.77"/>
<ellipse cx="511.8" cy="470.8" rx="34.75" ry="34.45" fill="#fff"/>
</g>
<path fill="none" stroke="#111" stroke-width="1.2" d="M396.8 345.9L396.8 597.2L674.4 597.2"/>
<text x="407.55" y="607.6" font-family="Liberation Sans" font-size="9.6" font-weight="normal" font-style="normal" text-anchor="middle" fill="#222">-0.03</text>
<text x="442.3" y="607.6" font-family="Liberation Sans" font-size="9.6" font-weight="normal" font-style="normal" text-anchor="middle" fill="#222">-0.02</text>
<text x="477.05" y="607.6" font-family="Liberation Sans" font-size="9.6" font-weight="normal" font-style="normal" text-anchor="middle" fill="#222">-0.01</text>
<text x="511.8" y="607.6" font-family="Liberation Sans" font-size="9.6" font-weight="normal" font-style="normal" text-anchor="middle" fill="#222">0</text>
<text x="546.55" y="607.6" font-family="Liberation Sans" font-size="9.6" font-weight="normal" font-style="normal" text-anchor="middle" fill="#222">0.01</text>
<text x="581.3" y="607.6" font-family="Liberation Sans" font-size="9.6" font-weight="normal" font-style="normal" text-anchor="middle" fill="#222">0.02</text>
<text x="616.05" y="607.6" font-family="Liberation Sans" font-size="9.6" font-weight="normal" font-style="normal" text-anchor="middle" fill="#222">0.03</text>
<text x="650.8" y="607.6" font-family="Liberation Sans" font-size="9.6" font-weight="normal" font-style="normal" text-anchor="middle" fill="#222">0.04</text>
<text x="392.5" y="577.55" font-family="Liberation Sans" font-size="9.6" font-weight="normal" font-style="normal" text-anchor="end" fill="#222">-0.03</text>
<text x="392.5" y="543.1" font-family="Liberation Sans" font-size="9.6" font-weight="normal" font-style="normal" text-anchor="end" fill="#222">-0.02</text>
<text x="392.5" y="508.65" font-family="Liberation Sans" font-size="9.6" font-weight="normal" font-style="normal" text-anchor="end" fill="#222">-0.01</text>
<text x="392.5" y="474.2" font-family="Liberation Sans" font-size="9.6" font-weight="normal" font-style="normal" text-anchor="end" fill="#222">0</text>
<text x="392.5" y="439.75" font-family="Liberation Sans" font-size="9.6" font-weight="normal" font-style="normal" text-anchor="end" fill="#222">0.01</text>
<text x="392.5" y="405.3" font-family="Liberation Sans" font-size="9.6" font-weight="normal" font-style="normal" text-anchor="end" fill="#222">0.02</text>
<text x="392.5" y="370.85" font-family="Liberation Sans" font-size="9.6" font-weight="normal" font-style="normal" text-anchor="end" fill="#222">0.03</text>
<path fill="none" stroke="#111" stroke-width="1.5" d="M407.55 597.2v-6M442.3 597.2v-6M477.05 597.2v-6M511.8 597.2v-6M546.55 597.2v-6M581.3 597.2v-6M616.05 597.2v-6M650.8 597.2v-6M396.8 574.15h6M396.8 539.7h6M396.8 505.25h6M396.8 470.8h6M396.8 436.35h6M396.8 401.9h6M396.8 367.45h6"/>
<path fill="none" stroke="#111" stroke-width="0.8" d="M400.6 597.2v-3.3M414.5 597.2v-3.3M421.45 597.2v-3.3M428.4 597.2v-3.3M435.35 597.2v-3.3M449.25 597.2v-3.3M456.2 597.2v-3.3M463.15 597.2v-3.3M470.1 597.2v-3.3M484 597.2v-3.3M490.95 597.2v-3.3M497.9 597.2v-3.3M504.85 597.2v-3.3M518.75 597.2v-3.3M525.7 597.2v-3.3M532.65 597.2v-3.3M539.6 597.2v-3.3M553.5 597.2v-3.3M560.45 597.2v-3.3M567.4 597.2v-3.3M574.35 597.2v-3.3M588.25 597.2v-3.3M595.2 597.2v-3.3M602.15 597.2v-3.3M609.1 597.2v-3.3M623 597.2v-3.3M629.95 597.2v-3.3M636.9 597.2v-3.3M643.85 597.2v-3.3M657.75 597.2v-3.3M664.7 597.2v-3.3M671.65 597.2v-3.3M396.8 594.82h3.3M396.8 587.93h3.3M396.8 581.04h3.3M396.8 567.26h3.3M396.8 560.37h3.3M396.8 553.48h3.3M396.8 546.59h3.3M396.8 532.81h3.3M396.8 525.92h3.3M396.8 519.03h3.3M396.8 512.14h3.3M396.8 498.36h3.3M396.8 491.47h3.3M396.8 484.58h3.3M396.8 477.69h3.3M396.8 463.91h3.3M396.8 457.02h3.3M396.8 450.13h3.3M396.8 443.24h3.3M396.8 429.46h3.3M396.8 422.57h3.3M396.8 415.68h3.3M396.8 408.79h3.3M396.8 395.01h3.3M396.8 388.12h3.3M396.8 381.23h3.3M396.8 374.34h3.3M396.8 360.56h3.3M396.8 353.67h3.3M396.8 346.78h3.3"/>
<text x="535" y="618" font-family="Liberation Sans" font-size="11.5" font-weight="bold" font-style="normal" text-anchor="middle" fill="#111">X</text>
<text x="0" y="0" font-family="Liberation Sans" font-size="11.5" font-weight="bold" font-style="normal" text-anchor="middle" fill="#111" transform="translate(374 471) rotate(-90)">Y</text>
<text x="159.3" y="317.2" font-family="Liberation Serif" font-size="18.7" fill="#111" text-anchor="middle">(a) <tspan font-style="italic">Kn</tspan> = 0.1</text>
<text x="522.3" y="317.2" font-family="Liberation Serif" font-size="18.7" fill="#111" text-anchor="middle">(b) <tspan font-style="italic">Kn</tspan> = 0.01</text>
<text x="159.3" y="660.5" font-family="Liberation Serif" font-size="18.7" fill="#111" text-anchor="middle">(c) <tspan font-style="italic">Kn</tspan> = 0.001 (global view)</text>
<text x="524.3" y="660.5" font-family="Liberation Serif" font-size="18.7" fill="#111" text-anchor="middle">(d) <tspan font-style="italic">Kn</tspan> = 0.001 (local view)</text>
</svg>
</body></html>
